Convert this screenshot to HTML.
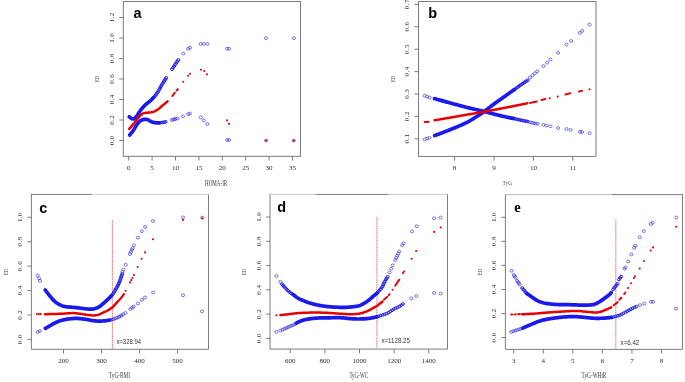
<!DOCTYPE html>
<html><head><meta charset="utf-8"><style>
html,body{margin:0;padding:0;background:#fff;}
body{width:685px;height:382px;overflow:hidden;}
svg{display:block;filter:blur(0.25px);}

</style></head><body>
<svg width="685" height="382" viewBox="0 0 685 382">
<rect width="685" height="382" fill="#fff"/>
<rect x="123.3" y="1.5" width="177.2" height="154.8" fill="none" stroke="#6e6e6e" stroke-width="0.9"/>
<line x1="128.7" y1="156.3" x2="128.7" y2="160.5" stroke="#6e6e6e" stroke-width="0.9"/>
<text x="128.7" y="168.2" font-family="Liberation Serif" font-size="7" font-weight="normal" fill="#2a2a2a" text-anchor="middle" dominant-baseline="central">0</text>
<line x1="152.1" y1="156.3" x2="152.1" y2="160.5" stroke="#6e6e6e" stroke-width="0.9"/>
<text x="152.1" y="168.2" font-family="Liberation Serif" font-size="7" font-weight="normal" fill="#2a2a2a" text-anchor="middle" dominant-baseline="central">5</text>
<line x1="175.5" y1="156.3" x2="175.5" y2="160.5" stroke="#6e6e6e" stroke-width="0.9"/>
<text x="175.5" y="168.2" font-family="Liberation Serif" font-size="7" font-weight="normal" fill="#2a2a2a" text-anchor="middle" dominant-baseline="central">10</text>
<line x1="198.9" y1="156.3" x2="198.9" y2="160.5" stroke="#6e6e6e" stroke-width="0.9"/>
<text x="198.9" y="168.2" font-family="Liberation Serif" font-size="7" font-weight="normal" fill="#2a2a2a" text-anchor="middle" dominant-baseline="central">15</text>
<line x1="222.3" y1="156.3" x2="222.3" y2="160.5" stroke="#6e6e6e" stroke-width="0.9"/>
<text x="222.3" y="168.2" font-family="Liberation Serif" font-size="7" font-weight="normal" fill="#2a2a2a" text-anchor="middle" dominant-baseline="central">20</text>
<line x1="245.7" y1="156.3" x2="245.7" y2="160.5" stroke="#6e6e6e" stroke-width="0.9"/>
<text x="245.7" y="168.2" font-family="Liberation Serif" font-size="7" font-weight="normal" fill="#2a2a2a" text-anchor="middle" dominant-baseline="central">25</text>
<line x1="269.1" y1="156.3" x2="269.1" y2="160.5" stroke="#6e6e6e" stroke-width="0.9"/>
<text x="269.1" y="168.2" font-family="Liberation Serif" font-size="7" font-weight="normal" fill="#2a2a2a" text-anchor="middle" dominant-baseline="central">30</text>
<line x1="292.5" y1="156.3" x2="292.5" y2="160.5" stroke="#6e6e6e" stroke-width="0.9"/>
<text x="292.5" y="168.2" font-family="Liberation Serif" font-size="7" font-weight="normal" fill="#2a2a2a" text-anchor="middle" dominant-baseline="central">35</text>
<line x1="119.3" y1="140.5" x2="123.3" y2="140.5" stroke="#6e6e6e" stroke-width="0.9"/>
<text x="112" y="140.5" font-family="Liberation Serif" font-size="7" font-weight="normal" fill="#2a2a2a" text-anchor="middle" dominant-baseline="central" textLength="9.6" lengthAdjust="spacing" transform="rotate(-90 112 140.5)">0.0</text>
<line x1="119.3" y1="120" x2="123.3" y2="120" stroke="#6e6e6e" stroke-width="0.9"/>
<text x="112" y="120" font-family="Liberation Serif" font-size="7" font-weight="normal" fill="#2a2a2a" text-anchor="middle" dominant-baseline="central" textLength="9.6" lengthAdjust="spacing" transform="rotate(-90 112 120)">0.2</text>
<line x1="119.3" y1="99.5" x2="123.3" y2="99.5" stroke="#6e6e6e" stroke-width="0.9"/>
<text x="112" y="99.5" font-family="Liberation Serif" font-size="7" font-weight="normal" fill="#2a2a2a" text-anchor="middle" dominant-baseline="central" textLength="9.6" lengthAdjust="spacing" transform="rotate(-90 112 99.5)">0.4</text>
<line x1="119.3" y1="79" x2="123.3" y2="79" stroke="#6e6e6e" stroke-width="0.9"/>
<text x="112" y="79" font-family="Liberation Serif" font-size="7" font-weight="normal" fill="#2a2a2a" text-anchor="middle" dominant-baseline="central" textLength="9.6" lengthAdjust="spacing" transform="rotate(-90 112 79)">0.6</text>
<line x1="119.3" y1="58.5" x2="123.3" y2="58.5" stroke="#6e6e6e" stroke-width="0.9"/>
<text x="112" y="58.5" font-family="Liberation Serif" font-size="7" font-weight="normal" fill="#2a2a2a" text-anchor="middle" dominant-baseline="central" textLength="9.6" lengthAdjust="spacing" transform="rotate(-90 112 58.5)">0.8</text>
<line x1="119.3" y1="38" x2="123.3" y2="38" stroke="#6e6e6e" stroke-width="0.9"/>
<text x="112" y="38" font-family="Liberation Serif" font-size="7" font-weight="normal" fill="#2a2a2a" text-anchor="middle" dominant-baseline="central" textLength="9.6" lengthAdjust="spacing" transform="rotate(-90 112 38)">1.0</text>
<line x1="119.3" y1="17.5" x2="123.3" y2="17.5" stroke="#6e6e6e" stroke-width="0.9"/>
<text x="112" y="17.5" font-family="Liberation Serif" font-size="7" font-weight="normal" fill="#2a2a2a" text-anchor="middle" dominant-baseline="central" textLength="9.6" lengthAdjust="spacing" transform="rotate(-90 112 17.5)">1.2</text>
<text x="97" y="78.9" font-family="Liberation Serif" font-size="6.2" font-weight="normal" fill="#444" text-anchor="middle" dominant-baseline="central" textLength="6.3" lengthAdjust="spacingAndGlyphs" transform="rotate(-90 97 78.9)">ED</text>
<text x="216.1" y="183.2" font-family="Liberation Serif" font-size="7.3" font-weight="normal" fill="#3a3a3a" text-anchor="middle" dominant-baseline="central" textLength="22.2" lengthAdjust="spacingAndGlyphs">HOMA-IR</text>
<text x="133.6" y="13.2" font-family="Liberation Sans" font-size="14.5" font-weight="bold" fill="#000" text-anchor="start" dominant-baseline="central">a</text>
<path d="M129.2 116.8 L129.89 117.33 L130.87 118.07 L131.8 118.6 L132.85 118.84 L133.9 118.6 L134.51 118.27 L135.17 117.81 L135.84 117.21 L136.5 116.5 L136.93 115.93 L137.34 115.29 L137.76 114.59 L138.19 113.86 L138.63 113.12 L139.1 112.4 L139.59 111.69 L140.11 110.96 L140.64 110.23 L141.18 109.5 L141.74 108.79 L142.3 108.1 L142.87 107.43 L143.45 106.78 L144.04 106.14 L144.64 105.51 L145.26 104.9 L145.9 104.3 L146.58 103.72 L147.29 103.16 L148.02 102.62 L148.74 102.08 L149.45 101.54 L150.1 101 L150.87 100.29 L151.64 99.52 L152.36 98.78 L152.97 98.15 L153.4 97.7" fill="none" stroke="#1a1aee" stroke-width="3.7" stroke-linecap="round" stroke-linejoin="round"/>
<ellipse cx="153.4" cy="97.7" rx="1.5" ry="1.3" fill="none" stroke="#1a1ae6" stroke-width="1.0"/>
<ellipse cx="154.65" cy="96.43" rx="1.5" ry="1.3" fill="none" stroke="#1a1ae6" stroke-width="1.0"/>
<ellipse cx="155.69" cy="95.14" rx="1.5" ry="1.3" fill="none" stroke="#1a1ae6" stroke-width="1.0"/>
<ellipse cx="156.64" cy="93.78" rx="1.5" ry="1.3" fill="none" stroke="#1a1ae6" stroke-width="1.0"/>
<ellipse cx="157.56" cy="92.38" rx="1.5" ry="1.3" fill="none" stroke="#1a1ae6" stroke-width="1.0"/>
<ellipse cx="158.49" cy="90.89" rx="1.5" ry="1.3" fill="none" stroke="#1a1ae6" stroke-width="1.0"/>
<ellipse cx="159.38" cy="89.33" rx="1.5" ry="1.3" fill="none" stroke="#1a1ae6" stroke-width="1.0"/>
<ellipse cx="160.18" cy="87.86" rx="1.5" ry="1.3" fill="none" stroke="#1a1ae6" stroke-width="1.0"/>
<ellipse cx="160.97" cy="86.4" rx="1.5" ry="1.3" fill="none" stroke="#1a1ae6" stroke-width="1.0"/>
<ellipse cx="161.8" cy="84.9" rx="1.5" ry="1.3" fill="none" stroke="#1a1ae6" stroke-width="1.0"/>
<ellipse cx="162.71" cy="83.38" rx="1.5" ry="1.3" fill="none" stroke="#1a1ae6" stroke-width="1.0"/>
<ellipse cx="163.66" cy="81.88" rx="1.5" ry="1.3" fill="none" stroke="#1a1ae6" stroke-width="1.0"/>
<ellipse cx="164.51" cy="80.52" rx="1.5" ry="1.3" fill="none" stroke="#1a1ae6" stroke-width="1.0"/>
<ellipse cx="165.36" cy="79.14" rx="1.5" ry="1.3" fill="none" stroke="#1a1ae6" stroke-width="1.0"/>
<ellipse cx="166.22" cy="77.77" rx="1.5" ry="1.3" fill="none" stroke="#1a1ae6" stroke-width="1.0"/>
<ellipse cx="172" cy="69.2" rx="1.5" ry="1.3" fill="none" stroke="#1a1ae6" stroke-width="1.0"/>
<ellipse cx="173.11" cy="67.55" rx="1.5" ry="1.3" fill="none" stroke="#1a1ae6" stroke-width="1.0"/>
<ellipse cx="174.13" cy="66.03" rx="1.5" ry="1.3" fill="none" stroke="#1a1ae6" stroke-width="1.0"/>
<ellipse cx="175.15" cy="64.51" rx="1.5" ry="1.3" fill="none" stroke="#1a1ae6" stroke-width="1.0"/>
<ellipse cx="176.25" cy="62.9" rx="1.5" ry="1.3" fill="none" stroke="#1a1ae6" stroke-width="1.0"/>
<ellipse cx="177.3" cy="61.37" rx="1.5" ry="1.3" fill="none" stroke="#1a1ae6" stroke-width="1.0"/>
<ellipse cx="178.34" cy="59.87" rx="1.5" ry="1.3" fill="none" stroke="#1a1ae6" stroke-width="1.0"/>
<ellipse cx="183.3" cy="53.5" rx="1.6" ry="1.4" fill="none" stroke="#3030d8" stroke-width="0.65"/>
<ellipse cx="188.3" cy="48.8" rx="1.6" ry="1.4" fill="none" stroke="#3030d8" stroke-width="0.65"/>
<ellipse cx="190" cy="47.7" rx="1.6" ry="1.4" fill="none" stroke="#3030d8" stroke-width="0.65"/>
<ellipse cx="200.7" cy="43.9" rx="1.6" ry="1.4" fill="none" stroke="#3030d8" stroke-width="0.65"/>
<ellipse cx="203.8" cy="43.9" rx="1.6" ry="1.4" fill="none" stroke="#3030d8" stroke-width="0.65"/>
<ellipse cx="207.4" cy="43.9" rx="1.6" ry="1.4" fill="none" stroke="#3030d8" stroke-width="0.65"/>
<ellipse cx="227.1" cy="48.7" rx="1.6" ry="1.4" fill="none" stroke="#3030d8" stroke-width="0.65"/>
<ellipse cx="229.1" cy="48.7" rx="1.6" ry="1.4" fill="none" stroke="#3030d8" stroke-width="0.65"/>
<ellipse cx="266" cy="38.2" rx="1.6" ry="1.4" fill="none" stroke="#3030d8" stroke-width="0.65"/>
<ellipse cx="293.9" cy="38.2" rx="1.6" ry="1.4" fill="none" stroke="#3030d8" stroke-width="0.65"/>
<path d="M129.7 135 L130.04 134.58 L130.5 134.01 L131.06 133.34 L131.66 132.59 L132.28 131.81 L132.87 131.03 L133.4 130.3 L133.87 129.58 L134.33 128.84 L134.77 128.08 L135.2 127.32 L135.62 126.58 L136.06 125.87 L136.5 125.2 L137.02 124.46 L137.54 123.73 L138.07 123.04 L138.6 122.39 L139.14 121.81 L139.7 121.3 L140.57 120.68 L141.47 120.21 L142.38 119.86 L143.3 119.6 L144.21 119.41 L145.11 119.31 L146.04 119.33 L147 119.5 L147.81 119.8 L148.64 120.23 L149.5 120.73 L150.35 121.21 L151.2 121.6 L152.05 121.9 L152.91 122.16 L153.76 122.38 L154.6 122.56 L155.4 122.7 L156.43 122.8 L157.46 122.82 L158.37 122.81 L159 122.8" fill="none" stroke="#1a1aee" stroke-width="3.7" stroke-linecap="round" stroke-linejoin="round"/>
<ellipse cx="159" cy="122.8" rx="1.5" ry="1.3" fill="none" stroke="#1a1ae6" stroke-width="1.0"/>
<ellipse cx="160.75" cy="122.66" rx="1.5" ry="1.3" fill="none" stroke="#1a1ae6" stroke-width="1.0"/>
<ellipse cx="162.36" cy="122.49" rx="1.5" ry="1.3" fill="none" stroke="#1a1ae6" stroke-width="1.0"/>
<ellipse cx="164.09" cy="122.19" rx="1.5" ry="1.3" fill="none" stroke="#1a1ae6" stroke-width="1.0"/>
<ellipse cx="165.69" cy="121.82" rx="1.5" ry="1.3" fill="none" stroke="#1a1ae6" stroke-width="1.0"/>
<ellipse cx="172" cy="120" rx="1.6" ry="1.4" fill="none" stroke="#3030d8" stroke-width="0.65"/>
<ellipse cx="173.3" cy="119.6" rx="1.6" ry="1.4" fill="none" stroke="#3030d8" stroke-width="0.65"/>
<ellipse cx="174.5" cy="119.2" rx="1.6" ry="1.4" fill="none" stroke="#3030d8" stroke-width="0.65"/>
<ellipse cx="175.8" cy="118.8" rx="1.6" ry="1.4" fill="none" stroke="#3030d8" stroke-width="0.65"/>
<ellipse cx="177.5" cy="118.5" rx="1.6" ry="1.4" fill="none" stroke="#3030d8" stroke-width="0.65"/>
<ellipse cx="183" cy="116.4" rx="1.6" ry="1.4" fill="none" stroke="#3030d8" stroke-width="0.65"/>
<ellipse cx="188.3" cy="114.2" rx="1.6" ry="1.4" fill="none" stroke="#3030d8" stroke-width="0.65"/>
<ellipse cx="190" cy="113.5" rx="1.6" ry="1.4" fill="none" stroke="#3030d8" stroke-width="0.65"/>
<ellipse cx="200.7" cy="117.4" rx="1.6" ry="1.4" fill="none" stroke="#3030d8" stroke-width="0.65"/>
<ellipse cx="203.8" cy="120.4" rx="1.6" ry="1.4" fill="none" stroke="#3030d8" stroke-width="0.65"/>
<ellipse cx="207.4" cy="124" rx="1.6" ry="1.4" fill="none" stroke="#3030d8" stroke-width="0.65"/>
<ellipse cx="227.2" cy="140" rx="1.6" ry="1.4" fill="none" stroke="#3030d8" stroke-width="0.65"/>
<ellipse cx="229.1" cy="140" rx="1.6" ry="1.4" fill="none" stroke="#3030d8" stroke-width="0.65"/>
<ellipse cx="266.1" cy="140.6" rx="1.6" ry="1.4" fill="none" stroke="#3030d8" stroke-width="0.65"/>
<ellipse cx="293.8" cy="140.6" rx="1.6" ry="1.4" fill="none" stroke="#3030d8" stroke-width="0.65"/>
<path d="M129.2 129 L129.52 128.62 L129.95 128.11 L130.47 127.5 L131.04 126.83 L131.64 126.12 L132.25 125.39 L132.85 124.67 L133.4 124 L133.93 123.35 L134.45 122.68 L134.97 122 L135.5 121.32 L136.03 120.64 L136.55 119.98 L137.08 119.33 L137.6 118.7 L138.2 117.99 L138.8 117.27 L139.41 116.55 L140.01 115.87 L140.61 115.24 L141.21 114.67 L141.8 114.2 L142.62 113.7 L143.44 113.36 L144.26 113.13 L145.08 112.96 L145.9 112.8 L146.73 112.68 L147.57 112.64 L148.42 112.62 L149.26 112.59 L150.1 112.5 L150.94 112.35 L151.78 112.18 L152.62 111.97 L153.46 111.72 L154.3 111.4 L155 111.09 L155.7 110.74 L156.4 110.36 L157.1 109.94 L157.8 109.48 L158.5 109 L159.19 108.47 L159.88 107.9 L160.56 107.3 L161.26 106.67 L161.97 106.04 L162.7 105.4 L163.4 104.81 L164.17 104.17 L164.97 103.5 L165.75 102.86 L166.46 102.26 L167.06 101.77 L167.5 101.4" fill="none" stroke="#e60000" stroke-width="2.5" stroke-linecap="round" stroke-linejoin="round"/>
<circle cx="172.4" cy="95.9" r="1.0" fill="#e60000"/>
<circle cx="173.02" cy="95.07" r="1.0" fill="#e60000"/>
<circle cx="173.6" cy="94.3" r="1.0" fill="#e60000"/>
<circle cx="174.18" cy="93.53" r="1.0" fill="#e60000"/>
<circle cx="174.73" cy="92.79" r="1.0" fill="#e60000"/>
<circle cx="176.6" cy="90.6" r="1.0" fill="#e60000"/>
<circle cx="177.22" cy="89.85" r="1.0" fill="#e60000"/>
<circle cx="177.81" cy="89.13" r="1.0" fill="#e60000"/>
<circle cx="183.2" cy="81.8" r="1.05" fill="#e60000"/>
<circle cx="188.1" cy="75.7" r="1.05" fill="#e60000"/>
<circle cx="190" cy="73.8" r="1.05" fill="#e60000"/>
<circle cx="201" cy="69.8" r="1.05" fill="#e60000"/>
<circle cx="204.2" cy="71" r="1.05" fill="#e60000"/>
<circle cx="207" cy="74.2" r="1.05" fill="#e60000"/>
<circle cx="227.1" cy="120.4" r="1.05" fill="#e60000"/>
<circle cx="229.1" cy="123.9" r="1.05" fill="#e60000"/>
<circle cx="266.1" cy="140.6" r="1.05" fill="#e60000"/>
<circle cx="293.8" cy="140.6" r="1.05" fill="#e60000"/>
<rect x="418.5" y="1.5" width="177.5" height="154.9" fill="none" stroke="#6e6e6e" stroke-width="0.9"/>
<line x1="454.6" y1="156.4" x2="454.6" y2="160.6" stroke="#6e6e6e" stroke-width="0.9"/>
<text x="454.6" y="168.3" font-family="Liberation Serif" font-size="7" font-weight="normal" fill="#2a2a2a" text-anchor="middle" dominant-baseline="central">8</text>
<line x1="494" y1="156.4" x2="494" y2="160.6" stroke="#6e6e6e" stroke-width="0.9"/>
<text x="494" y="168.3" font-family="Liberation Serif" font-size="7" font-weight="normal" fill="#2a2a2a" text-anchor="middle" dominant-baseline="central">9</text>
<line x1="533.4" y1="156.4" x2="533.4" y2="160.6" stroke="#6e6e6e" stroke-width="0.9"/>
<text x="533.4" y="168.3" font-family="Liberation Serif" font-size="7" font-weight="normal" fill="#2a2a2a" text-anchor="middle" dominant-baseline="central">10</text>
<line x1="572.8" y1="156.4" x2="572.8" y2="160.6" stroke="#6e6e6e" stroke-width="0.9"/>
<text x="572.8" y="168.3" font-family="Liberation Serif" font-size="7" font-weight="normal" fill="#2a2a2a" text-anchor="middle" dominant-baseline="central">11</text>
<line x1="414.5" y1="138.8" x2="418.5" y2="138.8" stroke="#6e6e6e" stroke-width="0.9"/>
<text x="407.2" y="138.8" font-family="Liberation Serif" font-size="7" font-weight="normal" fill="#2a2a2a" text-anchor="middle" dominant-baseline="central" textLength="9.6" lengthAdjust="spacing" transform="rotate(-90 407.2 138.8)">0.1</text>
<line x1="414.5" y1="116.4" x2="418.5" y2="116.4" stroke="#6e6e6e" stroke-width="0.9"/>
<text x="407.2" y="116.4" font-family="Liberation Serif" font-size="7" font-weight="normal" fill="#2a2a2a" text-anchor="middle" dominant-baseline="central" textLength="9.6" lengthAdjust="spacing" transform="rotate(-90 407.2 116.4)">0.2</text>
<line x1="414.5" y1="94" x2="418.5" y2="94" stroke="#6e6e6e" stroke-width="0.9"/>
<text x="407.2" y="94" font-family="Liberation Serif" font-size="7" font-weight="normal" fill="#2a2a2a" text-anchor="middle" dominant-baseline="central" textLength="9.6" lengthAdjust="spacing" transform="rotate(-90 407.2 94)">0.3</text>
<line x1="414.5" y1="71.6" x2="418.5" y2="71.6" stroke="#6e6e6e" stroke-width="0.9"/>
<text x="407.2" y="71.6" font-family="Liberation Serif" font-size="7" font-weight="normal" fill="#2a2a2a" text-anchor="middle" dominant-baseline="central" textLength="9.6" lengthAdjust="spacing" transform="rotate(-90 407.2 71.6)">0.4</text>
<line x1="414.5" y1="49.2" x2="418.5" y2="49.2" stroke="#6e6e6e" stroke-width="0.9"/>
<text x="407.2" y="49.2" font-family="Liberation Serif" font-size="7" font-weight="normal" fill="#2a2a2a" text-anchor="middle" dominant-baseline="central" textLength="9.6" lengthAdjust="spacing" transform="rotate(-90 407.2 49.2)">0.5</text>
<line x1="414.5" y1="26.8" x2="418.5" y2="26.8" stroke="#6e6e6e" stroke-width="0.9"/>
<text x="407.2" y="26.8" font-family="Liberation Serif" font-size="7" font-weight="normal" fill="#2a2a2a" text-anchor="middle" dominant-baseline="central" textLength="9.6" lengthAdjust="spacing" transform="rotate(-90 407.2 26.8)">0.6</text>
<line x1="414.5" y1="4.4" x2="418.5" y2="4.4" stroke="#6e6e6e" stroke-width="0.9"/>
<text x="407.2" y="4.4" font-family="Liberation Serif" font-size="7" font-weight="normal" fill="#2a2a2a" text-anchor="middle" dominant-baseline="central" textLength="9.6" lengthAdjust="spacing" transform="rotate(-90 407.2 4.4)">0.7</text>
<text x="392.2" y="78.95" font-family="Liberation Serif" font-size="6.2" font-weight="normal" fill="#444" text-anchor="middle" dominant-baseline="central" textLength="6.3" lengthAdjust="spacingAndGlyphs" transform="rotate(-90 392.2 78.95)">ED</text>
<text x="507.3" y="182.8" font-family="Liberation Serif" font-size="6.6" font-weight="normal" fill="#555" text-anchor="middle" dominant-baseline="central" textLength="9.5" lengthAdjust="spacingAndGlyphs">TyG</text>
<text x="428.3" y="12.6" font-family="Liberation Sans" font-size="14.5" font-weight="bold" fill="#000" text-anchor="start" dominant-baseline="central">b</text>
<path d="M434.7 135.6 L435.13 135.44 L435.64 135.24 L436.24 135.02 L436.89 134.77 L437.61 134.5 L438.38 134.21 L439.19 133.9 L440.04 133.58 L440.91 133.25 L441.8 132.91 L442.69 132.57 L443.59 132.23 L444.47 131.89 L445.34 131.55 L446.19 131.22 L447 130.9 L447.75 130.6 L448.53 130.29 L449.32 129.98 L450.12 129.66 L450.92 129.34 L451.74 129.01 L452.55 128.69 L453.36 128.36 L454.17 128.03 L454.97 127.71 L455.75 127.38 L456.52 127.07 L457.27 126.76 L458 126.45 L458.7 126.16 L459.36 125.87 L460 125.6 L460.92 125.2 L461.76 124.83 L462.54 124.48 L463.28 124.15 L463.97 123.83 L464.65 123.51 L465.3 123.19 L465.95 122.87 L466.61 122.53 L467.29 122.18 L468 121.8 L468.73 121.4 L469.46 120.99 L470.19 120.57 L470.92 120.15 L471.65 119.71 L472.38 119.27 L473.11 118.82 L473.84 118.36 L474.56 117.91 L475.28 117.46 L476 117 L476.7 116.55 L477.37 116.12 L478.02 115.7 L478.67 115.28 L479.32 114.85 L479.97 114.41 L480.65 113.95 L481.35 113.47 L482.08 112.95 L482.87 112.4 L483.7 111.8 L484.27 111.38 L484.87 110.94 L485.5 110.48 L486.14 110 L486.8 109.5 L487.47 108.99 L488.16 108.47 L488.86 107.94 L489.56 107.4 L490.26 106.86 L490.96 106.33 L491.66 105.8 L492.35 105.27 L493.04 104.76 L493.71 104.26 L494.36 103.77 L495 103.3 L495.71 102.78 L496.41 102.28 L497.1 101.78 L497.79 101.29 L498.47 100.8 L499.14 100.33 L499.81 99.85 L500.48 99.39 L501.13 98.92 L501.79 98.46 L502.44 98.01 L503.08 97.55 L503.73 97.1 L504.37 96.65 L505 96.2 L505.75 95.67 L506.53 95.11 L507.33 94.54 L508.14 93.97 L508.94 93.4 L509.74 92.83 L510.51 92.29 L511.24 91.76 L511.93 91.27 L512.56 90.83 L513.12 90.43 L513.61 90.08 L514 89.8" fill="none" stroke="#1a1aee" stroke-width="3.7" stroke-linecap="round" stroke-linejoin="round"/>
<ellipse cx="424.7" cy="139.4" rx="1.6" ry="1.4" fill="none" stroke="#3030d8" stroke-width="0.65"/>
<ellipse cx="427.1" cy="138.6" rx="1.6" ry="1.4" fill="none" stroke="#3030d8" stroke-width="0.65"/>
<ellipse cx="429.5" cy="137.8" rx="1.6" ry="1.4" fill="none" stroke="#3030d8" stroke-width="0.65"/>
<ellipse cx="514" cy="89.8" rx="1.5" ry="1.3" fill="none" stroke="#1a1ae6" stroke-width="1.0"/>
<ellipse cx="515.33" cy="88.84" rx="1.5" ry="1.3" fill="none" stroke="#1a1ae6" stroke-width="1.0"/>
<ellipse cx="516.68" cy="87.86" rx="1.5" ry="1.3" fill="none" stroke="#1a1ae6" stroke-width="1.0"/>
<ellipse cx="518.02" cy="86.9" rx="1.5" ry="1.3" fill="none" stroke="#1a1ae6" stroke-width="1.0"/>
<ellipse cx="519.41" cy="85.91" rx="1.5" ry="1.3" fill="none" stroke="#1a1ae6" stroke-width="1.0"/>
<ellipse cx="520.79" cy="84.95" rx="1.5" ry="1.3" fill="none" stroke="#1a1ae6" stroke-width="1.0"/>
<ellipse cx="522.24" cy="83.95" rx="1.5" ry="1.3" fill="none" stroke="#1a1ae6" stroke-width="1.0"/>
<ellipse cx="523.6" cy="83.01" rx="1.5" ry="1.3" fill="none" stroke="#1a1ae6" stroke-width="1.0"/>
<ellipse cx="524.95" cy="82.09" rx="1.5" ry="1.3" fill="none" stroke="#1a1ae6" stroke-width="1.0"/>
<ellipse cx="526.36" cy="81.13" rx="1.5" ry="1.3" fill="none" stroke="#1a1ae6" stroke-width="1.0"/>
<ellipse cx="527.72" cy="80.19" rx="1.5" ry="1.3" fill="none" stroke="#1a1ae6" stroke-width="1.0"/>
<ellipse cx="530" cy="77.5" rx="1.6" ry="1.4" fill="none" stroke="#3030d8" stroke-width="0.65"/>
<ellipse cx="532.43" cy="75.43" rx="1.6" ry="1.4" fill="none" stroke="#3030d8" stroke-width="0.65"/>
<ellipse cx="534.87" cy="73.37" rx="1.6" ry="1.4" fill="none" stroke="#3030d8" stroke-width="0.65"/>
<ellipse cx="537.3" cy="71.3" rx="1.6" ry="1.4" fill="none" stroke="#3030d8" stroke-width="0.65"/>
<ellipse cx="543.5" cy="66.1" rx="1.6" ry="1.4" fill="none" stroke="#3030d8" stroke-width="0.65"/>
<ellipse cx="547.2" cy="62.7" rx="1.6" ry="1.4" fill="none" stroke="#3030d8" stroke-width="0.65"/>
<ellipse cx="550.4" cy="59.6" rx="1.6" ry="1.4" fill="none" stroke="#3030d8" stroke-width="0.65"/>
<ellipse cx="558.1" cy="52.9" rx="1.6" ry="1.4" fill="none" stroke="#3030d8" stroke-width="0.65"/>
<ellipse cx="566.5" cy="44.5" rx="1.6" ry="1.4" fill="none" stroke="#3030d8" stroke-width="0.65"/>
<ellipse cx="571.1" cy="41" rx="1.6" ry="1.4" fill="none" stroke="#3030d8" stroke-width="0.65"/>
<ellipse cx="579.7" cy="33" rx="1.6" ry="1.4" fill="none" stroke="#3030d8" stroke-width="0.65"/>
<ellipse cx="582.2" cy="30.9" rx="1.6" ry="1.4" fill="none" stroke="#3030d8" stroke-width="0.65"/>
<ellipse cx="589.5" cy="24.6" rx="1.6" ry="1.4" fill="none" stroke="#3030d8" stroke-width="0.65"/>
<path d="M434.5 98.6 L434.94 98.72 L435.46 98.87 L436.06 99.04 L436.73 99.23 L437.47 99.44 L438.25 99.66 L439.08 99.89 L439.94 100.13 L440.82 100.38 L441.73 100.63 L442.64 100.89 L443.55 101.14 L444.45 101.39 L445.33 101.64 L446.18 101.87 L447 102.1 L447.81 102.32 L448.64 102.55 L449.48 102.78 L450.33 103.01 L451.19 103.24 L452.06 103.47 L452.92 103.71 L453.78 103.94 L454.63 104.17 L455.47 104.39 L456.29 104.61 L457.09 104.82 L457.86 105.03 L458.61 105.23 L459.32 105.42 L460 105.6 L460.97 105.86 L461.8 106.08 L462.52 106.28 L463.19 106.46 L463.83 106.64 L464.49 106.81 L465.19 107 L465.99 107.2 L466.91 107.43 L468 107.7 L468.62 107.85 L469.27 108.01 L469.97 108.17 L470.7 108.35 L471.46 108.52 L472.25 108.71 L473.06 108.9 L473.89 109.09 L474.73 109.28 L475.58 109.48 L476.44 109.68 L477.3 109.88 L478.15 110.08 L479 110.28 L479.83 110.47 L480.65 110.67 L481.46 110.86 L482.23 111.04 L482.98 111.22 L483.7 111.4 L484.62 111.63 L485.51 111.85 L486.38 112.08 L487.23 112.3 L488.06 112.52 L488.88 112.74 L489.68 112.95 L490.48 113.16 L491.26 113.37 L492.05 113.58 L492.83 113.79 L493.61 113.99 L494.4 114.2 L495.2 114.4 L496 114.6 L496.82 114.8 L497.67 115.01 L498.53 115.21 L499.4 115.42 L500.28 115.63 L501.16 115.84 L502.03 116.04 L502.88 116.24 L503.72 116.43 L504.53 116.61 L505.31 116.79 L506.05 116.96 L506.75 117.12 L507.4 117.27 L508 117.4 L509.3 117.68 L510.37 117.9 L511.25 118.08 L511.96 118.21 L512.54 118.31 L513 118.4" fill="none" stroke="#1a1aee" stroke-width="3.7" stroke-linecap="round" stroke-linejoin="round"/>
<ellipse cx="424.7" cy="95.7" rx="1.6" ry="1.4" fill="none" stroke="#3030d8" stroke-width="0.65"/>
<ellipse cx="427.1" cy="96.6" rx="1.6" ry="1.4" fill="none" stroke="#3030d8" stroke-width="0.65"/>
<ellipse cx="429.5" cy="97.5" rx="1.6" ry="1.4" fill="none" stroke="#3030d8" stroke-width="0.65"/>
<ellipse cx="513" cy="118.4" rx="1.5" ry="1.3" fill="none" stroke="#1a1ae6" stroke-width="1.0"/>
<ellipse cx="514.65" cy="118.78" rx="1.5" ry="1.3" fill="none" stroke="#1a1ae6" stroke-width="1.0"/>
<ellipse cx="516.34" cy="119.18" rx="1.5" ry="1.3" fill="none" stroke="#1a1ae6" stroke-width="1.0"/>
<ellipse cx="517.96" cy="119.55" rx="1.5" ry="1.3" fill="none" stroke="#1a1ae6" stroke-width="1.0"/>
<ellipse cx="519.56" cy="119.91" rx="1.5" ry="1.3" fill="none" stroke="#1a1ae6" stroke-width="1.0"/>
<ellipse cx="521.22" cy="120.26" rx="1.5" ry="1.3" fill="none" stroke="#1a1ae6" stroke-width="1.0"/>
<ellipse cx="522.81" cy="120.58" rx="1.5" ry="1.3" fill="none" stroke="#1a1ae6" stroke-width="1.0"/>
<ellipse cx="524.44" cy="120.9" rx="1.5" ry="1.3" fill="none" stroke="#1a1ae6" stroke-width="1.0"/>
<ellipse cx="526.16" cy="121.24" rx="1.5" ry="1.3" fill="none" stroke="#1a1ae6" stroke-width="1.0"/>
<ellipse cx="527.78" cy="121.56" rx="1.5" ry="1.3" fill="none" stroke="#1a1ae6" stroke-width="1.0"/>
<ellipse cx="529.9" cy="122.3" rx="1.6" ry="1.4" fill="none" stroke="#3030d8" stroke-width="0.65"/>
<ellipse cx="532" cy="122.8" rx="1.6" ry="1.4" fill="none" stroke="#3030d8" stroke-width="0.65"/>
<ellipse cx="534" cy="123.2" rx="1.6" ry="1.4" fill="none" stroke="#3030d8" stroke-width="0.65"/>
<ellipse cx="535.8" cy="123.6" rx="1.6" ry="1.4" fill="none" stroke="#3030d8" stroke-width="0.65"/>
<ellipse cx="537.7" cy="123.9" rx="1.6" ry="1.4" fill="none" stroke="#3030d8" stroke-width="0.65"/>
<ellipse cx="543.5" cy="124.9" rx="1.6" ry="1.4" fill="none" stroke="#3030d8" stroke-width="0.65"/>
<ellipse cx="546.5" cy="125.5" rx="1.6" ry="1.4" fill="none" stroke="#3030d8" stroke-width="0.65"/>
<ellipse cx="550.4" cy="126.3" rx="1.6" ry="1.4" fill="none" stroke="#3030d8" stroke-width="0.65"/>
<ellipse cx="558.1" cy="128" rx="1.6" ry="1.4" fill="none" stroke="#3030d8" stroke-width="0.65"/>
<ellipse cx="566.5" cy="129" rx="1.6" ry="1.4" fill="none" stroke="#3030d8" stroke-width="0.65"/>
<ellipse cx="570.6" cy="129.8" rx="1.6" ry="1.4" fill="none" stroke="#3030d8" stroke-width="0.65"/>
<ellipse cx="580" cy="131.8" rx="1.6" ry="1.4" fill="none" stroke="#3030d8" stroke-width="0.65"/>
<ellipse cx="582" cy="132" rx="1.6" ry="1.4" fill="none" stroke="#3030d8" stroke-width="0.65"/>
<ellipse cx="589.5" cy="133.2" rx="1.6" ry="1.4" fill="none" stroke="#3030d8" stroke-width="0.65"/>
<path d="M434.7 120.3 L435.12 120.23 L435.59 120.15 L436.09 120.06 L436.65 119.96 L437.24 119.86 L437.86 119.75 L438.53 119.63 L439.22 119.51 L439.95 119.38 L440.71 119.25 L441.49 119.12 L442.3 118.98 L443.13 118.83 L443.99 118.68 L444.86 118.53 L445.75 118.37 L446.65 118.22 L447.57 118.06 L448.49 117.9 L449.43 117.73 L450.37 117.57 L451.31 117.4 L452.26 117.24 L453.21 117.07 L454.16 116.91 L455.1 116.74 L456.04 116.58 L456.97 116.42 L457.89 116.26 L458.8 116.1 L459.69 115.94 L460.57 115.79 L461.43 115.64 L462.27 115.5 L463.08 115.35 L463.88 115.22 L464.64 115.08 L465.38 114.96 L466.08 114.83 L466.76 114.72 L467.4 114.6 L468 114.5 L469.23 114.29 L470.35 114.09 L471.37 113.92 L472.31 113.76 L473.17 113.62 L473.97 113.48 L474.71 113.36 L475.41 113.24 L476.08 113.13 L476.74 113.02 L477.39 112.91 L478.04 112.8 L478.71 112.69 L479.4 112.57 L480.14 112.44 L480.92 112.3 L481.77 112.15 L482.69 111.98 L483.7 111.8 L484.38 111.68 L485.08 111.55 L485.8 111.41 L486.55 111.28 L487.31 111.14 L488.09 110.99 L488.89 110.84 L489.7 110.69 L490.52 110.54 L491.35 110.38 L492.19 110.22 L493.05 110.06 L493.9 109.9 L494.77 109.74 L495.63 109.57 L496.5 109.41 L497.37 109.25 L498.23 109.08 L499.1 108.92 L499.96 108.75 L500.81 108.59 L501.66 108.43 L502.5 108.26 L503.33 108.11 L504.15 107.95 L504.95 107.79 L505.74 107.64 L506.51 107.49 L507.26 107.34 L508 107.2 L508.91 107.02 L509.84 106.84 L510.78 106.65 L511.72 106.46 L512.66 106.27 L513.61 106.08 L514.55 105.89 L515.49 105.7 L516.42 105.51 L517.33 105.33 L518.24 105.14 L519.12 104.96 L519.98 104.79 L520.82 104.61 L521.63 104.45 L522.41 104.29 L523.16 104.13 L523.87 103.98 L524.54 103.85 L525.17 103.72 L525.75 103.6 L526.29 103.49 L526.77 103.39 L527.2 103.3" fill="none" stroke="#e60000" stroke-width="2.5" stroke-linecap="round" stroke-linejoin="round"/>
<circle cx="424.6" cy="122.1" r="1.0" fill="#e60000"/>
<circle cx="425.62" cy="122.03" r="1.0" fill="#e60000"/>
<circle cx="426.58" cy="121.96" r="1.0" fill="#e60000"/>
<circle cx="427.56" cy="121.89" r="1.0" fill="#e60000"/>
<circle cx="428.55" cy="121.82" r="1.0" fill="#e60000"/>
<circle cx="529.9" cy="102.9" r="1.0" fill="#e60000"/>
<circle cx="530.93" cy="102.69" r="1.0" fill="#e60000"/>
<circle cx="531.99" cy="102.47" r="1.0" fill="#e60000"/>
<circle cx="532.94" cy="102.28" r="1.0" fill="#e60000"/>
<circle cx="533.92" cy="102.07" r="1.0" fill="#e60000"/>
<circle cx="534.88" cy="101.88" r="1.0" fill="#e60000"/>
<circle cx="535.77" cy="101.69" r="1.0" fill="#e60000"/>
<circle cx="536.69" cy="101.51" r="1.0" fill="#e60000"/>
<circle cx="541.4" cy="99.9" r="1.0" fill="#e60000"/>
<circle cx="542.42" cy="99.68" r="1.0" fill="#e60000"/>
<circle cx="543.38" cy="99.48" r="1.0" fill="#e60000"/>
<circle cx="544.36" cy="99.27" r="1.0" fill="#e60000"/>
<circle cx="545.35" cy="99.05" r="1.0" fill="#e60000"/>
<circle cx="565.4" cy="94.5" r="1.0" fill="#e60000"/>
<circle cx="566.31" cy="94.29" r="1.0" fill="#e60000"/>
<circle cx="567.4" cy="94.04" r="1.0" fill="#e60000"/>
<circle cx="568.37" cy="93.82" r="1.0" fill="#e60000"/>
<circle cx="569.33" cy="93.6" r="1.0" fill="#e60000"/>
<circle cx="570.38" cy="93.36" r="1.0" fill="#e60000"/>
<circle cx="579" cy="91.5" r="1.0" fill="#e60000"/>
<circle cx="580.11" cy="91.26" r="1.0" fill="#e60000"/>
<circle cx="581.09" cy="91.04" r="1.0" fill="#e60000"/>
<circle cx="582.08" cy="90.83" r="1.0" fill="#e60000"/>
<circle cx="549.7" cy="98.2" r="1.05" fill="#e60000"/>
<circle cx="557.7" cy="96.6" r="1.05" fill="#e60000"/>
<circle cx="589.5" cy="89.3" r="1.05" fill="#e60000"/>
<path d="M31.4 193.95 L31.4 349.3 L208.5 349.3 L208.5 193.95" fill="none" stroke="#6e6e6e" stroke-width="0.9"/>
<line x1="31" y1="194.4" x2="92.2" y2="194.4" stroke="#6e6e6e" stroke-width="0.9"/>
<line x1="92.2" y1="194.4" x2="208.9" y2="194.4" stroke="#c6c6c6" stroke-width="0.9"/>
<line x1="63.5" y1="349.3" x2="63.5" y2="353.5" stroke="#6e6e6e" stroke-width="0.9"/>
<text x="63.5" y="361.2" font-family="Liberation Serif" font-size="7" font-weight="normal" fill="#2a2a2a" text-anchor="middle" dominant-baseline="central">200</text>
<line x1="101.53" y1="349.3" x2="101.53" y2="353.5" stroke="#6e6e6e" stroke-width="0.9"/>
<text x="101.53" y="361.2" font-family="Liberation Serif" font-size="7" font-weight="normal" fill="#2a2a2a" text-anchor="middle" dominant-baseline="central">300</text>
<line x1="139.56" y1="349.3" x2="139.56" y2="353.5" stroke="#6e6e6e" stroke-width="0.9"/>
<text x="139.56" y="361.2" font-family="Liberation Serif" font-size="7" font-weight="normal" fill="#2a2a2a" text-anchor="middle" dominant-baseline="central">400</text>
<line x1="177.59" y1="349.3" x2="177.59" y2="353.5" stroke="#6e6e6e" stroke-width="0.9"/>
<text x="177.59" y="361.2" font-family="Liberation Serif" font-size="7" font-weight="normal" fill="#2a2a2a" text-anchor="middle" dominant-baseline="central">500</text>
<line x1="27.4" y1="339.4" x2="31.4" y2="339.4" stroke="#6e6e6e" stroke-width="0.9"/>
<text x="20.1" y="339.4" font-family="Liberation Serif" font-size="7" font-weight="normal" fill="#2a2a2a" text-anchor="middle" dominant-baseline="central" textLength="9.6" lengthAdjust="spacing" transform="rotate(-90 20.1 339.4)">0.0</text>
<line x1="27.4" y1="314.98" x2="31.4" y2="314.98" stroke="#6e6e6e" stroke-width="0.9"/>
<text x="20.1" y="314.98" font-family="Liberation Serif" font-size="7" font-weight="normal" fill="#2a2a2a" text-anchor="middle" dominant-baseline="central" textLength="9.6" lengthAdjust="spacing" transform="rotate(-90 20.1 314.98)">0.2</text>
<line x1="27.4" y1="290.56" x2="31.4" y2="290.56" stroke="#6e6e6e" stroke-width="0.9"/>
<text x="20.1" y="290.56" font-family="Liberation Serif" font-size="7" font-weight="normal" fill="#2a2a2a" text-anchor="middle" dominant-baseline="central" textLength="9.6" lengthAdjust="spacing" transform="rotate(-90 20.1 290.56)">0.4</text>
<line x1="27.4" y1="266.14" x2="31.4" y2="266.14" stroke="#6e6e6e" stroke-width="0.9"/>
<text x="20.1" y="266.14" font-family="Liberation Serif" font-size="7" font-weight="normal" fill="#2a2a2a" text-anchor="middle" dominant-baseline="central" textLength="9.6" lengthAdjust="spacing" transform="rotate(-90 20.1 266.14)">0.6</text>
<line x1="27.4" y1="241.72" x2="31.4" y2="241.72" stroke="#6e6e6e" stroke-width="0.9"/>
<text x="20.1" y="241.72" font-family="Liberation Serif" font-size="7" font-weight="normal" fill="#2a2a2a" text-anchor="middle" dominant-baseline="central" textLength="9.6" lengthAdjust="spacing" transform="rotate(-90 20.1 241.72)">0.8</text>
<line x1="27.4" y1="217.3" x2="31.4" y2="217.3" stroke="#6e6e6e" stroke-width="0.9"/>
<text x="20.1" y="217.3" font-family="Liberation Serif" font-size="7" font-weight="normal" fill="#2a2a2a" text-anchor="middle" dominant-baseline="central" textLength="9.6" lengthAdjust="spacing" transform="rotate(-90 20.1 217.3)">1.0</text>
<text x="5.1" y="271.85" font-family="Liberation Serif" font-size="6.2" font-weight="normal" fill="#444" text-anchor="middle" dominant-baseline="central" textLength="6.3" lengthAdjust="spacingAndGlyphs" transform="rotate(-90 5.1 271.85)">ED</text>
<text x="119.5" y="375.7" font-family="Liberation Serif" font-size="7.3" font-weight="normal" fill="#3a3a3a" text-anchor="middle" dominant-baseline="central" textLength="21" lengthAdjust="spacingAndGlyphs">TyG-BMI</text>
<text x="39.3" y="207.6" font-family="Liberation Sans" font-size="14.5" font-weight="bold" fill="#000" text-anchor="start" dominant-baseline="central">c</text>
<line x1="112.4" y1="220" x2="112.4" y2="349.3" stroke="#e77f7f" stroke-width="1.1" stroke-dasharray="1.5 0.6"/>
<text x="116.4" y="341.3" font-family="Liberation Sans" font-size="6.3" font-weight="normal" fill="#333" text-anchor="start" dominant-baseline="central" textLength="24.6" lengthAdjust="spacingAndGlyphs">x=328.94</text>
<path d="M45.2 290 L45.5 290.39 L45.88 290.9 L46.34 291.51 L46.85 292.19 L47.41 292.91 L47.98 293.66 L48.57 294.41 L49.14 295.13 L49.7 295.8 L50.25 296.45 L50.81 297.12 L51.38 297.79 L51.96 298.47 L52.54 299.13 L53.13 299.77 L53.72 300.39 L54.31 300.97 L54.9 301.5 L55.65 302.12 L56.41 302.69 L57.17 303.21 L57.93 303.68 L58.69 304.12 L59.45 304.52 L60.2 304.9 L61.03 305.29 L61.81 305.63 L62.59 305.91 L63.42 306.16 L64.34 306.39 L65.4 306.6 L66.12 306.71 L66.88 306.81 L67.69 306.89 L68.53 306.97 L69.4 307.03 L70.3 307.09 L71.21 307.16 L72.14 307.23 L73.07 307.31 L74 307.4 L74.8 307.49 L75.64 307.58 L76.52 307.69 L77.41 307.8 L78.32 307.91 L79.22 308.02 L80.12 308.13 L80.99 308.24 L81.82 308.34 L82.61 308.44 L83.34 308.52 L84 308.6 L85.12 308.73 L86.04 308.85 L86.81 308.94 L87.52 309.02 L88.22 309.07 L89 309.1 L89.83 309.12 L90.67 309.12 L91.5 309.11 L92.33 309.06 L93.17 308.96 L94 308.8 L94.83 308.59 L95.67 308.33 L96.5 308.03 L97.33 307.68 L98.17 307.27 L99 306.8 L99.63 306.39 L100.27 305.93 L100.92 305.43 L101.56 304.9 L102.2 304.36 L102.82 303.82 L103.42 303.29 L104 302.8 L104.74 302.17 L105.44 301.54 L106.12 300.93 L106.78 300.33 L107.4 299.75 L108 299.2 L108.71 298.53 L109.42 297.85 L110.06 297.22 L110.61 296.68 L111 296.3" fill="none" stroke="#1a1aee" stroke-width="3.7" stroke-linecap="round" stroke-linejoin="round"/>
<ellipse cx="37.5" cy="275.3" rx="1.6" ry="1.4" fill="none" stroke="#3030d8" stroke-width="0.65"/>
<ellipse cx="38.9" cy="278.2" rx="1.6" ry="1.4" fill="none" stroke="#3030d8" stroke-width="0.65"/>
<ellipse cx="40" cy="280.8" rx="1.6" ry="1.4" fill="none" stroke="#3030d8" stroke-width="0.65"/>
<ellipse cx="111" cy="296.3" rx="1.5" ry="1.3" fill="none" stroke="#1a1ae6" stroke-width="1.0"/>
<ellipse cx="112.16" cy="294.9" rx="1.5" ry="1.3" fill="none" stroke="#1a1ae6" stroke-width="1.0"/>
<ellipse cx="113.22" cy="293.48" rx="1.5" ry="1.3" fill="none" stroke="#1a1ae6" stroke-width="1.0"/>
<ellipse cx="114.11" cy="292.08" rx="1.5" ry="1.3" fill="none" stroke="#1a1ae6" stroke-width="1.0"/>
<ellipse cx="115" cy="290.6" rx="1.5" ry="1.3" fill="none" stroke="#1a1ae6" stroke-width="1.0"/>
<ellipse cx="115.91" cy="289.05" rx="1.5" ry="1.3" fill="none" stroke="#1a1ae6" stroke-width="1.0"/>
<ellipse cx="116.71" cy="287.63" rx="1.5" ry="1.3" fill="none" stroke="#1a1ae6" stroke-width="1.0"/>
<ellipse cx="117.47" cy="286.21" rx="1.5" ry="1.3" fill="none" stroke="#1a1ae6" stroke-width="1.0"/>
<ellipse cx="118.2" cy="284.78" rx="1.5" ry="1.3" fill="none" stroke="#1a1ae6" stroke-width="1.0"/>
<ellipse cx="118.88" cy="283.31" rx="1.5" ry="1.3" fill="none" stroke="#1a1ae6" stroke-width="1.0"/>
<ellipse cx="119.51" cy="281.81" rx="1.5" ry="1.3" fill="none" stroke="#1a1ae6" stroke-width="1.0"/>
<ellipse cx="120.09" cy="280.28" rx="1.5" ry="1.3" fill="none" stroke="#1a1ae6" stroke-width="1.0"/>
<ellipse cx="120.66" cy="278.69" rx="1.5" ry="1.3" fill="none" stroke="#1a1ae6" stroke-width="1.0"/>
<ellipse cx="121.2" cy="277.02" rx="1.5" ry="1.3" fill="none" stroke="#1a1ae6" stroke-width="1.0"/>
<ellipse cx="121.7" cy="275.49" rx="1.5" ry="1.3" fill="none" stroke="#1a1ae6" stroke-width="1.0"/>
<ellipse cx="122.2" cy="273.9" rx="1.5" ry="1.3" fill="none" stroke="#1a1ae6" stroke-width="1.0"/>
<ellipse cx="122.4" cy="271.9" rx="1.6" ry="1.4" fill="none" stroke="#3030d8" stroke-width="0.65"/>
<ellipse cx="123.6" cy="269.6" rx="1.6" ry="1.4" fill="none" stroke="#3030d8" stroke-width="0.65"/>
<ellipse cx="125.7" cy="264.8" rx="1.6" ry="1.4" fill="none" stroke="#3030d8" stroke-width="0.65"/>
<ellipse cx="129.9" cy="254.1" rx="1.6" ry="1.4" fill="none" stroke="#3030d8" stroke-width="0.65"/>
<ellipse cx="130.9" cy="252" rx="1.6" ry="1.4" fill="none" stroke="#3030d8" stroke-width="0.65"/>
<ellipse cx="131.8" cy="249.9" rx="1.6" ry="1.4" fill="none" stroke="#3030d8" stroke-width="0.65"/>
<ellipse cx="132.5" cy="248.4" rx="1.6" ry="1.4" fill="none" stroke="#3030d8" stroke-width="0.65"/>
<ellipse cx="133.9" cy="245.4" rx="1.6" ry="1.4" fill="none" stroke="#3030d8" stroke-width="0.65"/>
<ellipse cx="137.9" cy="237.7" rx="1.6" ry="1.4" fill="none" stroke="#3030d8" stroke-width="0.65"/>
<ellipse cx="141.8" cy="231.2" rx="1.6" ry="1.4" fill="none" stroke="#3030d8" stroke-width="0.65"/>
<ellipse cx="145.2" cy="227" rx="1.6" ry="1.4" fill="none" stroke="#3030d8" stroke-width="0.65"/>
<ellipse cx="153" cy="221" rx="1.6" ry="1.4" fill="none" stroke="#3030d8" stroke-width="0.65"/>
<ellipse cx="183" cy="217.4" rx="1.6" ry="1.4" fill="none" stroke="#3030d8" stroke-width="0.65"/>
<ellipse cx="202.2" cy="217.6" rx="1.6" ry="1.4" fill="none" stroke="#3030d8" stroke-width="0.65"/>
<path d="M45.3 328.4 L45.77 328.13 L46.41 327.77 L47.17 327.33 L48.01 326.86 L48.87 326.37 L49.7 325.9 L50.4 325.5 L51.12 325.08 L51.87 324.65 L52.62 324.21 L53.38 323.79 L54.14 323.38 L54.9 323 L55.65 322.64 L56.41 322.29 L57.17 321.96 L57.93 321.64 L58.69 321.34 L59.45 321.06 L60.2 320.8 L61.08 320.52 L61.96 320.28 L62.84 320.06 L63.71 319.86 L64.57 319.67 L65.4 319.5 L66.34 319.32 L67.22 319.16 L68.09 319.03 L69 318.91 L70 318.8 L70.8 318.72 L71.67 318.64 L72.58 318.57 L73.5 318.51 L74.39 318.45 L75.24 318.42 L76 318.4 L76.9 318.41 L77.65 318.46 L78.35 318.52 L79.1 318.61 L80 318.7 L80.75 318.76 L81.57 318.83 L82.43 318.9 L83.32 318.99 L84.23 319.08 L85.13 319.18 L86 319.3 L86.85 319.45 L87.69 319.62 L88.52 319.8 L89.36 320 L90.21 320.18 L91.09 320.35 L92 320.5 L92.83 320.61 L93.7 320.71 L94.6 320.81 L95.5 320.89 L96.4 320.97 L97.3 321.03 L98.17 321.07 L99 321.1 L99.92 321.11 L100.82 321.09 L101.69 321.06 L102.55 321.01 L103.39 320.95 L104.2 320.88 L105 320.8 L105.95 320.69 L106.93 320.54 L107.88 320.38 L108.74 320.23 L109.47 320.09 L110 320" fill="none" stroke="#1a1aee" stroke-width="3.7" stroke-linecap="round" stroke-linejoin="round"/>
<ellipse cx="37.7" cy="332" rx="1.6" ry="1.4" fill="none" stroke="#3030d8" stroke-width="0.65"/>
<ellipse cx="39.8" cy="331" rx="1.6" ry="1.4" fill="none" stroke="#3030d8" stroke-width="0.65"/>
<ellipse cx="111.5" cy="319.7" rx="1.6" ry="1.4" fill="none" stroke="#3030d8" stroke-width="0.65"/>
<ellipse cx="113" cy="319.3" rx="1.6" ry="1.4" fill="none" stroke="#3030d8" stroke-width="0.65"/>
<ellipse cx="114.5" cy="318.8" rx="1.6" ry="1.4" fill="none" stroke="#3030d8" stroke-width="0.65"/>
<ellipse cx="116" cy="318.2" rx="1.6" ry="1.4" fill="none" stroke="#3030d8" stroke-width="0.65"/>
<ellipse cx="117.5" cy="317.6" rx="1.6" ry="1.4" fill="none" stroke="#3030d8" stroke-width="0.65"/>
<ellipse cx="119" cy="316.9" rx="1.6" ry="1.4" fill="none" stroke="#3030d8" stroke-width="0.65"/>
<ellipse cx="120.3" cy="316.1" rx="1.6" ry="1.4" fill="none" stroke="#3030d8" stroke-width="0.65"/>
<ellipse cx="121.6" cy="315.3" rx="1.6" ry="1.4" fill="none" stroke="#3030d8" stroke-width="0.65"/>
<ellipse cx="123.2" cy="314.3" rx="1.6" ry="1.4" fill="none" stroke="#3030d8" stroke-width="0.65"/>
<ellipse cx="125.5" cy="312.9" rx="1.6" ry="1.4" fill="none" stroke="#3030d8" stroke-width="0.65"/>
<ellipse cx="130.4" cy="309" rx="1.6" ry="1.4" fill="none" stroke="#3030d8" stroke-width="0.65"/>
<ellipse cx="132.1" cy="307.7" rx="1.6" ry="1.4" fill="none" stroke="#3030d8" stroke-width="0.65"/>
<ellipse cx="133.7" cy="306.6" rx="1.6" ry="1.4" fill="none" stroke="#3030d8" stroke-width="0.65"/>
<ellipse cx="137.9" cy="303.5" rx="1.6" ry="1.4" fill="none" stroke="#3030d8" stroke-width="0.65"/>
<ellipse cx="142.1" cy="299.8" rx="1.6" ry="1.4" fill="none" stroke="#3030d8" stroke-width="0.65"/>
<ellipse cx="145" cy="297.5" rx="1.6" ry="1.4" fill="none" stroke="#3030d8" stroke-width="0.65"/>
<ellipse cx="153.1" cy="292.5" rx="1.6" ry="1.4" fill="none" stroke="#3030d8" stroke-width="0.65"/>
<ellipse cx="183" cy="295.2" rx="1.6" ry="1.4" fill="none" stroke="#3030d8" stroke-width="0.65"/>
<ellipse cx="202" cy="311.3" rx="1.6" ry="1.4" fill="none" stroke="#3030d8" stroke-width="0.65"/>
<path d="M45 314.2 L45.49 314.19 L46.1 314.18 L46.82 314.17 L47.63 314.16 L48.51 314.14 L49.44 314.12 L50.4 314.11 L51.37 314.09 L52.34 314.07 L53.28 314.05 L54.17 314.02 L55 314 L55.85 313.97 L56.68 313.94 L57.5 313.91 L58.3 313.87 L59.1 313.84 L59.9 313.8 L60.7 313.76 L61.5 313.72 L62.32 313.68 L63.15 313.64 L64 313.6 L64.8 313.56 L65.61 313.5 L66.43 313.44 L67.26 313.37 L68.1 313.31 L68.94 313.24 L69.78 313.19 L70.63 313.14 L71.48 313.1 L72.32 313.08 L73.16 313.08 L74 313.1 L74.85 313.15 L75.72 313.22 L76.62 313.31 L77.52 313.42 L78.42 313.54 L79.31 313.68 L80.19 313.81 L81.04 313.94 L81.85 314.07 L82.62 314.2 L83.34 314.31 L84 314.4 L85.12 314.56 L86.04 314.69 L86.81 314.81 L87.52 314.92 L88.22 315.01 L89 315.1 L89.83 315.19 L90.67 315.27 L91.5 315.35 L92.33 315.4 L93.17 315.42 L94 315.4 L94.83 315.34 L95.67 315.24 L96.5 315.11 L97.33 314.95 L98.17 314.74 L99 314.5 L99.84 314.19 L100.7 313.82 L101.56 313.41 L102.41 312.99 L103.22 312.58 L104 312.2 L104.86 311.81 L105.65 311.47 L106.41 311.13 L107.18 310.75 L108 310.3 L108.73 309.86 L109.5 309.38 L110.28 308.86 L111.06 308.32 L111.8 307.77 L112.5 307.2 L113.16 306.59 L113.81 305.94 L114.44 305.26 L115.02 304.61 L115.54 304.01 L116 303.5 L116.97 302.42 L117.5 301.8" fill="none" stroke="#e60000" stroke-width="2.5" stroke-linecap="round" stroke-linejoin="round"/>
<circle cx="117.5" cy="301.8" r="1.1" fill="#e60000"/>
<circle cx="118.34" cy="300.93" r="1.1" fill="#e60000"/>
<circle cx="119.17" cy="300.06" r="1.1" fill="#e60000"/>
<circle cx="119.87" cy="299.29" r="1.1" fill="#e60000"/>
<circle cx="120.67" cy="298.4" r="1.1" fill="#e60000"/>
<circle cx="121.35" cy="297.61" r="1.1" fill="#e60000"/>
<circle cx="122" cy="296.8" r="1.1" fill="#e60000"/>
<circle cx="122.66" cy="295.9" r="1.1" fill="#e60000"/>
<circle cx="123.32" cy="294.92" r="1.1" fill="#e60000"/>
<circle cx="123.89" cy="294.07" r="1.1" fill="#e60000"/>
<circle cx="36.8" cy="314.1" r="1.05" fill="#e60000"/>
<circle cx="38.9" cy="314.1" r="1.05" fill="#e60000"/>
<circle cx="40.6" cy="314.1" r="1.05" fill="#e60000"/>
<circle cx="125.6" cy="290.7" r="1.05" fill="#e60000"/>
<circle cx="130" cy="282.4" r="1.05" fill="#e60000"/>
<circle cx="131.3" cy="280.1" r="1.05" fill="#e60000"/>
<circle cx="132.4" cy="278" r="1.05" fill="#e60000"/>
<circle cx="133.9" cy="275.1" r="1.05" fill="#e60000"/>
<circle cx="137.7" cy="267" r="1.05" fill="#e60000"/>
<circle cx="141.6" cy="258.8" r="1.05" fill="#e60000"/>
<circle cx="145.1" cy="252.4" r="1.05" fill="#e60000"/>
<circle cx="153" cy="239.3" r="1.05" fill="#e60000"/>
<circle cx="183" cy="220.1" r="1.05" fill="#e60000"/>
<circle cx="202.2" cy="218.2" r="1.05" fill="#e60000"/>
<path d="M270 193.95 L270 349.1 L447.5 349.1 L447.5 193.95" fill="none" stroke="#6e6e6e" stroke-width="0.9"/>
<line x1="269.6" y1="194.4" x2="316.1" y2="194.4" stroke="#c0c0c0" stroke-width="0.9"/>
<line x1="316.1" y1="194.4" x2="388" y2="194.4" stroke="#6e6e6e" stroke-width="0.9"/>
<line x1="388" y1="194.4" x2="447.9" y2="194.4" stroke="#c0c0c0" stroke-width="0.9"/>
<line x1="290.2" y1="349.1" x2="290.2" y2="353.3" stroke="#6e6e6e" stroke-width="0.9"/>
<text x="290.2" y="361" font-family="Liberation Serif" font-size="7" font-weight="normal" fill="#2a2a2a" text-anchor="middle" dominant-baseline="central">600</text>
<line x1="324.85" y1="349.1" x2="324.85" y2="353.3" stroke="#6e6e6e" stroke-width="0.9"/>
<text x="324.85" y="361" font-family="Liberation Serif" font-size="7" font-weight="normal" fill="#2a2a2a" text-anchor="middle" dominant-baseline="central">800</text>
<line x1="359.5" y1="349.1" x2="359.5" y2="353.3" stroke="#6e6e6e" stroke-width="0.9"/>
<text x="359.5" y="361" font-family="Liberation Serif" font-size="7" font-weight="normal" fill="#2a2a2a" text-anchor="middle" dominant-baseline="central">1000</text>
<line x1="394.15" y1="349.1" x2="394.15" y2="353.3" stroke="#6e6e6e" stroke-width="0.9"/>
<text x="394.15" y="361" font-family="Liberation Serif" font-size="7" font-weight="normal" fill="#2a2a2a" text-anchor="middle" dominant-baseline="central">1200</text>
<line x1="428.8" y1="349.1" x2="428.8" y2="353.3" stroke="#6e6e6e" stroke-width="0.9"/>
<text x="428.8" y="361" font-family="Liberation Serif" font-size="7" font-weight="normal" fill="#2a2a2a" text-anchor="middle" dominant-baseline="central">1400</text>
<line x1="266" y1="338.4" x2="270" y2="338.4" stroke="#6e6e6e" stroke-width="0.9"/>
<text x="258.7" y="338.4" font-family="Liberation Serif" font-size="7" font-weight="normal" fill="#2a2a2a" text-anchor="middle" dominant-baseline="central" textLength="9.6" lengthAdjust="spacing" transform="rotate(-90 258.7 338.4)">0.0</text>
<line x1="266" y1="314.12" x2="270" y2="314.12" stroke="#6e6e6e" stroke-width="0.9"/>
<text x="258.7" y="314.12" font-family="Liberation Serif" font-size="7" font-weight="normal" fill="#2a2a2a" text-anchor="middle" dominant-baseline="central" textLength="9.6" lengthAdjust="spacing" transform="rotate(-90 258.7 314.12)">0.2</text>
<line x1="266" y1="289.84" x2="270" y2="289.84" stroke="#6e6e6e" stroke-width="0.9"/>
<text x="258.7" y="289.84" font-family="Liberation Serif" font-size="7" font-weight="normal" fill="#2a2a2a" text-anchor="middle" dominant-baseline="central" textLength="9.6" lengthAdjust="spacing" transform="rotate(-90 258.7 289.84)">0.4</text>
<line x1="266" y1="265.56" x2="270" y2="265.56" stroke="#6e6e6e" stroke-width="0.9"/>
<text x="258.7" y="265.56" font-family="Liberation Serif" font-size="7" font-weight="normal" fill="#2a2a2a" text-anchor="middle" dominant-baseline="central" textLength="9.6" lengthAdjust="spacing" transform="rotate(-90 258.7 265.56)">0.6</text>
<line x1="266" y1="241.28" x2="270" y2="241.28" stroke="#6e6e6e" stroke-width="0.9"/>
<text x="258.7" y="241.28" font-family="Liberation Serif" font-size="7" font-weight="normal" fill="#2a2a2a" text-anchor="middle" dominant-baseline="central" textLength="9.6" lengthAdjust="spacing" transform="rotate(-90 258.7 241.28)">0.8</text>
<line x1="266" y1="217" x2="270" y2="217" stroke="#6e6e6e" stroke-width="0.9"/>
<text x="258.7" y="217" font-family="Liberation Serif" font-size="7" font-weight="normal" fill="#2a2a2a" text-anchor="middle" dominant-baseline="central" textLength="9.6" lengthAdjust="spacing" transform="rotate(-90 258.7 217)">1.0</text>
<text x="243.7" y="271.75" font-family="Liberation Serif" font-size="6.2" font-weight="normal" fill="#444" text-anchor="middle" dominant-baseline="central" textLength="6.3" lengthAdjust="spacingAndGlyphs" transform="rotate(-90 243.7 271.75)">ED</text>
<text x="358.7" y="375.7" font-family="Liberation Serif" font-size="7.3" font-weight="normal" fill="#3a3a3a" text-anchor="middle" dominant-baseline="central" textLength="18.6" lengthAdjust="spacingAndGlyphs">TyG-WC</text>
<text x="277.2" y="206.5" font-family="Liberation Sans" font-size="14.5" font-weight="bold" fill="#000" text-anchor="start" dominant-baseline="central">d</text>
<line x1="376.9" y1="217" x2="376.9" y2="349.1" stroke="#e77f7f" stroke-width="1.1" stroke-dasharray="1.5 0.6"/>
<text x="381.4" y="340.7" font-family="Liberation Sans" font-size="6.3" font-weight="normal" fill="#333" text-anchor="start" dominant-baseline="central" textLength="28.6" lengthAdjust="spacingAndGlyphs">x=1128.25</text>
<ellipse cx="282" cy="284.2" rx="1.5" ry="1.3" fill="none" stroke="#1a1ae6" stroke-width="1.0"/>
<ellipse cx="283.2" cy="285.56" rx="1.5" ry="1.3" fill="none" stroke="#1a1ae6" stroke-width="1.0"/>
<ellipse cx="284.34" cy="286.83" rx="1.5" ry="1.3" fill="none" stroke="#1a1ae6" stroke-width="1.0"/>
<ellipse cx="285.58" cy="288.18" rx="1.5" ry="1.3" fill="none" stroke="#1a1ae6" stroke-width="1.0"/>
<ellipse cx="286.88" cy="289.57" rx="1.5" ry="1.3" fill="none" stroke="#1a1ae6" stroke-width="1.0"/>
<ellipse cx="288.19" cy="290.86" rx="1.5" ry="1.3" fill="none" stroke="#1a1ae6" stroke-width="1.0"/>
<ellipse cx="289.59" cy="292.08" rx="1.5" ry="1.3" fill="none" stroke="#1a1ae6" stroke-width="1.0"/>
<ellipse cx="291.05" cy="293.2" rx="1.5" ry="1.3" fill="none" stroke="#1a1ae6" stroke-width="1.0"/>
<ellipse cx="292.56" cy="294.19" rx="1.5" ry="1.3" fill="none" stroke="#1a1ae6" stroke-width="1.0"/>
<path d="M293.2 294.6 L293.65 294.95 L294.26 295.43 L294.98 296 L295.78 296.62 L296.61 297.24 L297.43 297.81 L298.2 298.3 L298.92 298.7 L299.63 299.05 L300.34 299.37 L301.06 299.67 L301.81 299.97 L302.58 300.27 L303.4 300.6 L304.13 300.9 L304.87 301.21 L305.62 301.53 L306.4 301.84 L307.21 302.16 L308.08 302.48 L309 302.79 L310 303.1 L310.71 303.31 L311.47 303.52 L312.26 303.73 L313.08 303.95 L313.93 304.16 L314.79 304.38 L315.66 304.58 L316.54 304.79 L317.42 304.98 L318.29 305.16 L319.16 305.34 L320 305.5 L320.83 305.65 L321.67 305.79 L322.5 305.92 L323.33 306.04 L324.17 306.16 L325 306.27 L325.83 306.37 L326.67 306.47 L327.5 306.56 L328.33 306.64 L329.17 306.72 L330 306.8 L330.84 306.87 L331.69 306.94 L332.55 307 L333.41 307.05 L334.27 307.1 L335.12 307.14 L335.98 307.17 L336.81 307.21 L337.64 307.24 L338.45 307.26 L339.24 307.28 L340 307.3 L340.87 307.32 L341.7 307.34 L342.48 307.35 L343.25 307.36 L344 307.36 L344.75 307.35 L345.52 307.33 L346.3 307.3 L347.13 307.26 L348 307.2 L348.78 307.14 L349.61 307.07 L350.48 307 L351.37 306.91 L352.28 306.82 L353.19 306.72 L354.09 306.62 L354.96 306.51 L355.8 306.39 L356.6 306.26 L357.34 306.14 L358 306 L359.12 305.71 L360.04 305.41 L360.81 305.07 L361.52 304.71 L362.22 304.32 L363 303.9 L363.71 303.51 L364.43 303.1 L365.14 302.66 L365.86 302.2 L366.57 301.72 L367.29 301.22 L368 300.7 L368.63 300.22 L369.28 299.69 L369.93 299.15 L370.57 298.59 L371.21 298.04 L371.83 297.5 L372.43 296.98 L373 296.5 L373.75 295.88 L374.5 295.27 L375.21 294.69 L375.86 294.16 L376.4 293.72 L376.8 293.4" fill="none" stroke="#1a1aee" stroke-width="3.7" stroke-linecap="round" stroke-linejoin="round"/>
<ellipse cx="376.8" cy="293.4" rx="1.5" ry="1.3" fill="none" stroke="#1a1ae6" stroke-width="1.0"/>
<ellipse cx="377.94" cy="292.1" rx="1.5" ry="1.3" fill="none" stroke="#1a1ae6" stroke-width="1.0"/>
<ellipse cx="379.17" cy="290.68" rx="1.5" ry="1.3" fill="none" stroke="#1a1ae6" stroke-width="1.0"/>
<ellipse cx="380.28" cy="289.36" rx="1.5" ry="1.3" fill="none" stroke="#1a1ae6" stroke-width="1.0"/>
<ellipse cx="381.47" cy="287.96" rx="1.5" ry="1.3" fill="none" stroke="#1a1ae6" stroke-width="1.0"/>
<ellipse cx="382.5" cy="286.5" rx="1.5" ry="1.3" fill="none" stroke="#1a1ae6" stroke-width="1.0"/>
<ellipse cx="383.27" cy="284.85" rx="1.5" ry="1.3" fill="none" stroke="#1a1ae6" stroke-width="1.0"/>
<ellipse cx="383.95" cy="283.14" rx="1.5" ry="1.3" fill="none" stroke="#1a1ae6" stroke-width="1.0"/>
<ellipse cx="384.82" cy="281.47" rx="1.5" ry="1.3" fill="none" stroke="#1a1ae6" stroke-width="1.0"/>
<ellipse cx="385.79" cy="279.87" rx="1.5" ry="1.3" fill="none" stroke="#1a1ae6" stroke-width="1.0"/>
<ellipse cx="386.69" cy="278.37" rx="1.5" ry="1.3" fill="none" stroke="#1a1ae6" stroke-width="1.0"/>
<ellipse cx="387.6" cy="276.81" rx="1.5" ry="1.3" fill="none" stroke="#1a1ae6" stroke-width="1.0"/>
<ellipse cx="276.4" cy="276" rx="1.6" ry="1.4" fill="none" stroke="#3030d8" stroke-width="0.65"/>
<ellipse cx="280.3" cy="281.7" rx="1.6" ry="1.4" fill="none" stroke="#3030d8" stroke-width="0.65"/>
<ellipse cx="389.5" cy="272.5" rx="1.6" ry="1.4" fill="none" stroke="#3030d8" stroke-width="0.65"/>
<ellipse cx="391.1" cy="268.8" rx="1.6" ry="1.4" fill="none" stroke="#3030d8" stroke-width="0.65"/>
<ellipse cx="392.7" cy="265.3" rx="1.6" ry="1.4" fill="none" stroke="#3030d8" stroke-width="0.65"/>
<ellipse cx="395.3" cy="259.9" rx="1.6" ry="1.4" fill="none" stroke="#3030d8" stroke-width="0.65"/>
<ellipse cx="396.2" cy="257.9" rx="1.6" ry="1.4" fill="none" stroke="#3030d8" stroke-width="0.65"/>
<ellipse cx="397.2" cy="255.8" rx="1.6" ry="1.4" fill="none" stroke="#3030d8" stroke-width="0.65"/>
<ellipse cx="398.2" cy="253.7" rx="1.6" ry="1.4" fill="none" stroke="#3030d8" stroke-width="0.65"/>
<ellipse cx="399.2" cy="251.5" rx="1.6" ry="1.4" fill="none" stroke="#3030d8" stroke-width="0.65"/>
<ellipse cx="402.2" cy="245.2" rx="1.6" ry="1.4" fill="none" stroke="#3030d8" stroke-width="0.65"/>
<ellipse cx="403.8" cy="243.4" rx="1.6" ry="1.4" fill="none" stroke="#3030d8" stroke-width="0.65"/>
<ellipse cx="411.9" cy="231.4" rx="1.6" ry="1.4" fill="none" stroke="#3030d8" stroke-width="0.65"/>
<ellipse cx="416.6" cy="226.2" rx="1.6" ry="1.4" fill="none" stroke="#3030d8" stroke-width="0.65"/>
<ellipse cx="434.1" cy="218.3" rx="1.6" ry="1.4" fill="none" stroke="#3030d8" stroke-width="0.65"/>
<ellipse cx="440.7" cy="217.5" rx="1.6" ry="1.4" fill="none" stroke="#3030d8" stroke-width="0.65"/>
<ellipse cx="282.5" cy="329.8" rx="1.6" ry="1.4" fill="none" stroke="#3030d8" stroke-width="0.65"/>
<ellipse cx="284.35" cy="328.92" rx="1.6" ry="1.4" fill="none" stroke="#3030d8" stroke-width="0.65"/>
<ellipse cx="286.12" cy="328.07" rx="1.6" ry="1.4" fill="none" stroke="#3030d8" stroke-width="0.65"/>
<ellipse cx="287.77" cy="327.3" rx="1.6" ry="1.4" fill="none" stroke="#3030d8" stroke-width="0.65"/>
<ellipse cx="289.44" cy="326.58" rx="1.6" ry="1.4" fill="none" stroke="#3030d8" stroke-width="0.65"/>
<ellipse cx="291.24" cy="325.82" rx="1.6" ry="1.4" fill="none" stroke="#3030d8" stroke-width="0.65"/>
<ellipse cx="292.9" cy="325.1" rx="1.6" ry="1.4" fill="none" stroke="#3030d8" stroke-width="0.65"/>
<ellipse cx="294.61" cy="324.27" rx="1.6" ry="1.4" fill="none" stroke="#3030d8" stroke-width="0.65"/>
<ellipse cx="296.29" cy="323.41" rx="1.6" ry="1.4" fill="none" stroke="#3030d8" stroke-width="0.65"/>
<path d="M296.5 323 L297.03 322.68 L298.2 322.1 L298.85 321.82 L299.62 321.49 L300.49 321.12 L301.43 320.76 L302.41 320.41 L303.4 320.1 L304.13 319.9 L304.87 319.72 L305.62 319.54 L306.4 319.38 L307.21 319.23 L308.08 319.08 L309 318.94 L310 318.8 L310.71 318.71 L311.47 318.62 L312.26 318.53 L313.08 318.44 L313.93 318.36 L314.79 318.28 L315.66 318.2 L316.54 318.13 L317.42 318.06 L318.29 318 L319.16 317.95 L320 317.9 L320.83 317.86 L321.67 317.84 L322.5 317.82 L323.33 317.81 L324.17 317.8 L325 317.8 L325.83 317.8 L326.67 317.8 L327.5 317.81 L328.33 317.81 L329.17 317.81 L330 317.8 L330.83 317.79 L331.67 317.77 L332.5 317.75 L333.33 317.73 L334.17 317.71 L335 317.69 L335.83 317.67 L336.67 317.66 L337.5 317.65 L338.33 317.66 L339.17 317.67 L340 317.7 L340.84 317.74 L341.69 317.8 L342.55 317.87 L343.41 317.94 L344.27 318.03 L345.12 318.12 L345.98 318.21 L346.81 318.3 L347.64 318.39 L348.45 318.47 L349.24 318.54 L350 318.6 L350.87 318.66 L351.7 318.73 L352.48 318.79 L353.25 318.84 L354 318.89 L354.75 318.93 L355.52 318.96 L356.3 318.99 L357.13 319 L358 319 L358.77 318.99 L359.56 318.98 L360.39 318.96 L361.23 318.94 L362.09 318.91 L362.95 318.88 L363.82 318.83 L364.68 318.78 L365.54 318.72 L366.38 318.66 L367.2 318.58 L368 318.5 L368.88 318.39 L369.79 318.25 L370.72 318.1 L371.66 317.93 L372.58 317.76 L373.46 317.58 L374.3 317.41 L375.07 317.25 L375.75 317.11 L376.34 316.99 L376.8 316.9" fill="none" stroke="#1a1aee" stroke-width="3.7" stroke-linecap="round" stroke-linejoin="round"/>
<ellipse cx="376.8" cy="316.9" rx="1.5" ry="1.3" fill="none" stroke="#1a1ae6" stroke-width="1.0"/>
<ellipse cx="378.72" cy="316.26" rx="1.5" ry="1.3" fill="none" stroke="#1a1ae6" stroke-width="1.0"/>
<ellipse cx="380.72" cy="315.59" rx="1.5" ry="1.3" fill="none" stroke="#1a1ae6" stroke-width="1.0"/>
<ellipse cx="382.63" cy="314.93" rx="1.5" ry="1.3" fill="none" stroke="#1a1ae6" stroke-width="1.0"/>
<ellipse cx="384.6" cy="314.26" rx="1.5" ry="1.3" fill="none" stroke="#1a1ae6" stroke-width="1.0"/>
<ellipse cx="386.63" cy="313.54" rx="1.5" ry="1.3" fill="none" stroke="#1a1ae6" stroke-width="1.0"/>
<ellipse cx="388.48" cy="312.64" rx="1.5" ry="1.3" fill="none" stroke="#1a1ae6" stroke-width="1.0"/>
<ellipse cx="390.32" cy="311.47" rx="1.5" ry="1.3" fill="none" stroke="#1a1ae6" stroke-width="1.0"/>
<ellipse cx="392.05" cy="310.3" rx="1.5" ry="1.3" fill="none" stroke="#1a1ae6" stroke-width="1.0"/>
<ellipse cx="393.8" cy="309.2" rx="1.5" ry="1.3" fill="none" stroke="#1a1ae6" stroke-width="1.0"/>
<ellipse cx="395.65" cy="308.23" rx="1.5" ry="1.3" fill="none" stroke="#1a1ae6" stroke-width="1.0"/>
<ellipse cx="397.54" cy="307.31" rx="1.5" ry="1.3" fill="none" stroke="#1a1ae6" stroke-width="1.0"/>
<ellipse cx="399.45" cy="306.35" rx="1.5" ry="1.3" fill="none" stroke="#1a1ae6" stroke-width="1.0"/>
<ellipse cx="401.18" cy="305.28" rx="1.5" ry="1.3" fill="none" stroke="#1a1ae6" stroke-width="1.0"/>
<ellipse cx="402.92" cy="304.01" rx="1.5" ry="1.3" fill="none" stroke="#1a1ae6" stroke-width="1.0"/>
<ellipse cx="276.4" cy="331.9" rx="1.6" ry="1.4" fill="none" stroke="#3030d8" stroke-width="0.65"/>
<ellipse cx="280.4" cy="330.6" rx="1.6" ry="1.4" fill="none" stroke="#3030d8" stroke-width="0.65"/>
<ellipse cx="411.4" cy="298.3" rx="1.6" ry="1.4" fill="none" stroke="#3030d8" stroke-width="0.65"/>
<ellipse cx="416.4" cy="296" rx="1.6" ry="1.4" fill="none" stroke="#3030d8" stroke-width="0.65"/>
<ellipse cx="434.1" cy="292.9" rx="1.6" ry="1.4" fill="none" stroke="#3030d8" stroke-width="0.65"/>
<ellipse cx="440.7" cy="293.5" rx="1.6" ry="1.4" fill="none" stroke="#3030d8" stroke-width="0.65"/>
<path d="M280.4 315.1 L280.87 315.05 L281.47 314.98 L282.17 314.91 L282.97 314.82 L283.84 314.73 L284.76 314.63 L285.72 314.52 L286.71 314.41 L287.7 314.3 L288.4 314.22 L289.13 314.13 L289.88 314.04 L290.65 313.94 L291.45 313.84 L292.26 313.73 L293.08 313.63 L293.92 313.53 L294.77 313.43 L295.62 313.34 L296.48 313.25 L297.34 313.17 L298.2 313.1 L299.01 313.04 L299.83 312.99 L300.68 312.94 L301.53 312.89 L302.39 312.85 L303.26 312.81 L304.13 312.78 L305 312.74 L305.87 312.71 L306.72 312.69 L307.57 312.66 L308.4 312.64 L309.21 312.62 L310 312.6 L310.9 312.58 L311.77 312.57 L312.63 312.56 L313.47 312.55 L314.29 312.54 L315.11 312.54 L315.92 312.55 L316.73 312.55 L317.54 312.56 L318.35 312.57 L319.17 312.58 L320 312.6 L320.83 312.62 L321.67 312.64 L322.5 312.66 L323.33 312.69 L324.17 312.72 L325 312.76 L325.83 312.79 L326.67 312.83 L327.5 312.87 L328.33 312.91 L329.17 312.95 L330 313 L330.83 313.05 L331.67 313.1 L332.5 313.16 L333.33 313.22 L334.17 313.28 L335 313.34 L335.83 313.41 L336.67 313.47 L337.5 313.53 L338.33 313.59 L339.17 313.65 L340 313.7 L340.84 313.75 L341.69 313.81 L342.55 313.86 L343.41 313.91 L344.27 313.97 L345.12 314.02 L345.98 314.07 L346.81 314.11 L347.64 314.14 L348.45 314.17 L349.24 314.19 L350 314.2 L350.89 314.2 L351.78 314.19 L352.64 314.17 L353.49 314.14 L354.31 314.1 L355.11 314.05 L355.88 314 L356.62 313.94 L357.33 313.87 L358 313.8 L359.01 313.67 L359.89 313.51 L360.69 313.34 L361.44 313.15 L362.2 312.94 L363 312.7 L363.83 312.44 L364.67 312.16 L365.5 311.85 L366.33 311.52 L367.17 311.17 L368 310.8 L368.72 310.45 L369.46 310.07 L370.21 309.67 L370.94 309.26 L371.66 308.86 L372.35 308.47 L373 308.1 L373.85 307.63 L374.64 307.2 L375.38 306.78 L376.1 306.35 L376.8 305.9 L377.49 305.41 L378.16 304.89 L378.8 304.37 L379.41 303.87 L380 303.4 L380.98 302.65 L381.88 301.97 L382.5 301.5" fill="none" stroke="#e60000" stroke-width="2.5" stroke-linecap="round" stroke-linejoin="round"/>
<circle cx="384" cy="299.6" r="1.0" fill="#e60000"/>
<circle cx="384.81" cy="298.88" r="1.0" fill="#e60000"/>
<circle cx="385.5" cy="298.26" r="1.0" fill="#e60000"/>
<circle cx="386.38" cy="297.53" r="1.0" fill="#e60000"/>
<circle cx="387.2" cy="296.88" r="1.0" fill="#e60000"/>
<circle cx="388.8" cy="295.2" r="1.0" fill="#e60000"/>
<circle cx="389.48" cy="294.29" r="1.0" fill="#e60000"/>
<circle cx="276.4" cy="315.2" r="1.05" fill="#e60000"/>
<circle cx="392.6" cy="289.7" r="1.05" fill="#e60000"/>
<circle cx="395.2" cy="285.7" r="1.0" fill="#e60000"/>
<circle cx="395.81" cy="284.78" r="1.0" fill="#e60000"/>
<circle cx="396.35" cy="283.97" r="1.0" fill="#e60000"/>
<circle cx="396.95" cy="283.08" r="1.0" fill="#e60000"/>
<circle cx="397.53" cy="282.2" r="1.0" fill="#e60000"/>
<circle cx="398.12" cy="281.32" r="1.0" fill="#e60000"/>
<circle cx="398.65" cy="280.52" r="1.0" fill="#e60000"/>
<circle cx="399.25" cy="279.63" r="1.0" fill="#e60000"/>
<circle cx="403" cy="273.1" r="1.05" fill="#e60000"/>
<circle cx="404.1" cy="271.6" r="1.05" fill="#e60000"/>
<circle cx="411.7" cy="258.8" r="1.05" fill="#e60000"/>
<circle cx="416.2" cy="251" r="1.05" fill="#e60000"/>
<circle cx="434.1" cy="231.9" r="1.05" fill="#e60000"/>
<circle cx="440.7" cy="227.5" r="1.05" fill="#e60000"/>
<path d="M505.4 194.15 L505.4 349.4 L682.5 349.4 L682.5 194.15" fill="none" stroke="#6e6e6e" stroke-width="0.9"/>
<line x1="505" y1="194.6" x2="611.9" y2="194.6" stroke="#b4b4b4" stroke-width="0.9"/>
<line x1="611.9" y1="194.6" x2="682.9" y2="194.6" stroke="#6e6e6e" stroke-width="0.9"/>
<line x1="513.7" y1="349.4" x2="513.7" y2="353.6" stroke="#6e6e6e" stroke-width="0.9"/>
<text x="513.7" y="361.3" font-family="Liberation Serif" font-size="7" font-weight="normal" fill="#2a2a2a" text-anchor="middle" dominant-baseline="central">3</text>
<line x1="543.26" y1="349.4" x2="543.26" y2="353.6" stroke="#6e6e6e" stroke-width="0.9"/>
<text x="543.26" y="361.3" font-family="Liberation Serif" font-size="7" font-weight="normal" fill="#2a2a2a" text-anchor="middle" dominant-baseline="central">4</text>
<line x1="572.82" y1="349.4" x2="572.82" y2="353.6" stroke="#6e6e6e" stroke-width="0.9"/>
<text x="572.82" y="361.3" font-family="Liberation Serif" font-size="7" font-weight="normal" fill="#2a2a2a" text-anchor="middle" dominant-baseline="central">5</text>
<line x1="602.38" y1="349.4" x2="602.38" y2="353.6" stroke="#6e6e6e" stroke-width="0.9"/>
<text x="602.38" y="361.3" font-family="Liberation Serif" font-size="7" font-weight="normal" fill="#2a2a2a" text-anchor="middle" dominant-baseline="central">6</text>
<line x1="631.94" y1="349.4" x2="631.94" y2="353.6" stroke="#6e6e6e" stroke-width="0.9"/>
<text x="631.94" y="361.3" font-family="Liberation Serif" font-size="7" font-weight="normal" fill="#2a2a2a" text-anchor="middle" dominant-baseline="central">7</text>
<line x1="661.5" y1="349.4" x2="661.5" y2="353.6" stroke="#6e6e6e" stroke-width="0.9"/>
<text x="661.5" y="361.3" font-family="Liberation Serif" font-size="7" font-weight="normal" fill="#2a2a2a" text-anchor="middle" dominant-baseline="central">8</text>
<line x1="501.4" y1="337.6" x2="505.4" y2="337.6" stroke="#6e6e6e" stroke-width="0.9"/>
<text x="494.1" y="337.6" font-family="Liberation Serif" font-size="7" font-weight="normal" fill="#2a2a2a" text-anchor="middle" dominant-baseline="central" textLength="9.6" lengthAdjust="spacing" transform="rotate(-90 494.1 337.6)">0.0</text>
<line x1="501.4" y1="313.54" x2="505.4" y2="313.54" stroke="#6e6e6e" stroke-width="0.9"/>
<text x="494.1" y="313.54" font-family="Liberation Serif" font-size="7" font-weight="normal" fill="#2a2a2a" text-anchor="middle" dominant-baseline="central" textLength="9.6" lengthAdjust="spacing" transform="rotate(-90 494.1 313.54)">0.2</text>
<line x1="501.4" y1="289.48" x2="505.4" y2="289.48" stroke="#6e6e6e" stroke-width="0.9"/>
<text x="494.1" y="289.48" font-family="Liberation Serif" font-size="7" font-weight="normal" fill="#2a2a2a" text-anchor="middle" dominant-baseline="central" textLength="9.6" lengthAdjust="spacing" transform="rotate(-90 494.1 289.48)">0.4</text>
<line x1="501.4" y1="265.42" x2="505.4" y2="265.42" stroke="#6e6e6e" stroke-width="0.9"/>
<text x="494.1" y="265.42" font-family="Liberation Serif" font-size="7" font-weight="normal" fill="#2a2a2a" text-anchor="middle" dominant-baseline="central" textLength="9.6" lengthAdjust="spacing" transform="rotate(-90 494.1 265.42)">0.6</text>
<line x1="501.4" y1="241.36" x2="505.4" y2="241.36" stroke="#6e6e6e" stroke-width="0.9"/>
<text x="494.1" y="241.36" font-family="Liberation Serif" font-size="7" font-weight="normal" fill="#2a2a2a" text-anchor="middle" dominant-baseline="central" textLength="9.6" lengthAdjust="spacing" transform="rotate(-90 494.1 241.36)">0.8</text>
<line x1="501.4" y1="217.3" x2="505.4" y2="217.3" stroke="#6e6e6e" stroke-width="0.9"/>
<text x="494.1" y="217.3" font-family="Liberation Serif" font-size="7" font-weight="normal" fill="#2a2a2a" text-anchor="middle" dominant-baseline="central" textLength="9.6" lengthAdjust="spacing" transform="rotate(-90 494.1 217.3)">1.0</text>
<text x="479.1" y="272" font-family="Liberation Serif" font-size="6.2" font-weight="normal" fill="#444" text-anchor="middle" dominant-baseline="central" textLength="6.3" lengthAdjust="spacingAndGlyphs" transform="rotate(-90 479.1 272)">ED</text>
<text x="594" y="375.7" font-family="Liberation Serif" font-size="7.3" font-weight="normal" fill="#3a3a3a" text-anchor="middle" dominant-baseline="central" textLength="24.8" lengthAdjust="spacingAndGlyphs">TyG-WHtR</text>
<text x="514.2" y="207.4" font-family="Liberation Serif" font-size="14.5" font-weight="bold" fill="#000" text-anchor="start" dominant-baseline="central">e</text>
<line x1="615.8" y1="219.6" x2="615.8" y2="349.4" stroke="#e77f7f" stroke-width="1.1" stroke-dasharray="1.5 0.6"/>
<text x="620.6" y="342" font-family="Liberation Sans" font-size="6.3" font-weight="normal" fill="#333" text-anchor="start" dominant-baseline="central" textLength="18.7" lengthAdjust="spacingAndGlyphs">x=6.42</text>
<ellipse cx="511.7" cy="270.8" rx="1.6" ry="1.4" fill="none" stroke="#3030d8" stroke-width="0.65"/>
<ellipse cx="513.8" cy="274.9" rx="1.6" ry="1.4" fill="none" stroke="#3030d8" stroke-width="0.65"/>
<ellipse cx="514.6" cy="276.2" rx="1.6" ry="1.4" fill="none" stroke="#3030d8" stroke-width="0.65"/>
<ellipse cx="515.4" cy="277.6" rx="1.6" ry="1.4" fill="none" stroke="#3030d8" stroke-width="0.65"/>
<ellipse cx="517" cy="280.7" rx="1.6" ry="1.4" fill="none" stroke="#3030d8" stroke-width="0.65"/>
<ellipse cx="517.9" cy="282" rx="1.6" ry="1.4" fill="none" stroke="#3030d8" stroke-width="0.65"/>
<ellipse cx="518.8" cy="283.2" rx="1.6" ry="1.4" fill="none" stroke="#3030d8" stroke-width="0.65"/>
<ellipse cx="519.6" cy="284.4" rx="1.6" ry="1.4" fill="none" stroke="#3030d8" stroke-width="0.65"/>
<ellipse cx="522.2" cy="288" rx="1.5" ry="1.3" fill="none" stroke="#1a1ae6" stroke-width="1.0"/>
<ellipse cx="523.35" cy="289.41" rx="1.5" ry="1.3" fill="none" stroke="#1a1ae6" stroke-width="1.0"/>
<ellipse cx="524.48" cy="290.79" rx="1.5" ry="1.3" fill="none" stroke="#1a1ae6" stroke-width="1.0"/>
<ellipse cx="525.64" cy="292.23" rx="1.5" ry="1.3" fill="none" stroke="#1a1ae6" stroke-width="1.0"/>
<ellipse cx="526.75" cy="293.61" rx="1.5" ry="1.3" fill="none" stroke="#1a1ae6" stroke-width="1.0"/>
<path d="M526.9 293.5 L527.33 293.8 L527.9 294.21 L528.57 294.69 L529.33 295.22 L530.13 295.79 L530.95 296.36 L531.75 296.92 L532.51 297.44 L533.2 297.9 L533.99 298.43 L534.73 298.93 L535.43 299.41 L536.13 299.87 L536.84 300.3 L537.59 300.71 L538.4 301.1 L539.13 301.42 L539.87 301.72 L540.62 302.01 L541.4 302.27 L542.21 302.53 L543.08 302.76 L544 302.99 L545 303.2 L545.71 303.33 L546.47 303.46 L547.26 303.59 L548.08 303.7 L548.93 303.81 L549.79 303.92 L550.66 304.02 L551.54 304.11 L552.42 304.19 L553.29 304.27 L554.16 304.34 L555 304.4 L555.83 304.45 L556.67 304.49 L557.5 304.52 L558.33 304.54 L559.17 304.55 L560 304.56 L560.83 304.56 L561.67 304.56 L562.5 304.57 L563.33 304.57 L564.17 304.58 L565 304.6 L565.84 304.62 L566.69 304.64 L567.55 304.67 L568.41 304.69 L569.27 304.72 L570.12 304.74 L570.98 304.77 L571.81 304.8 L572.64 304.82 L573.45 304.85 L574.24 304.87 L575 304.9 L575.87 304.93 L576.7 304.97 L577.48 305.02 L578.25 305.06 L579 305.11 L579.75 305.14 L580.52 305.18 L581.3 305.2 L582.13 305.21 L583 305.2 L583.78 305.19 L584.61 305.17 L585.48 305.15 L586.37 305.12 L587.28 305.08 L588.19 305.04 L589.09 304.99 L589.96 304.94 L590.8 304.87 L591.6 304.79 L592.34 304.7 L593 304.6 L594.12 304.36 L595.04 304.08 L595.81 303.76 L596.52 303.41 L597.22 303.02 L598 302.6 L598.71 302.21 L599.43 301.79 L600.14 301.34 L600.86 300.87 L601.57 300.39 L602.29 299.89 L603 299.4 L603.73 298.89 L604.48 298.36 L605.23 297.81 L605.98 297.26 L606.7 296.72 L607.37 296.2 L608 295.7 L608.82 295.01 L609.6 294.31 L610.3 293.65 L610.88 293.1 L611.3 292.7" fill="none" stroke="#1a1aee" stroke-width="3.7" stroke-linecap="round" stroke-linejoin="round"/>
<ellipse cx="613.2" cy="289.4" rx="1.5" ry="1.3" fill="none" stroke="#1a1ae6" stroke-width="1.0"/>
<ellipse cx="614.3" cy="287.95" rx="1.5" ry="1.3" fill="none" stroke="#1a1ae6" stroke-width="1.0"/>
<ellipse cx="615.4" cy="286.5" rx="1.5" ry="1.3" fill="none" stroke="#1a1ae6" stroke-width="1.0"/>
<ellipse cx="616.5" cy="285.05" rx="1.5" ry="1.3" fill="none" stroke="#1a1ae6" stroke-width="1.0"/>
<ellipse cx="617.53" cy="283.69" rx="1.5" ry="1.3" fill="none" stroke="#1a1ae6" stroke-width="1.0"/>
<ellipse cx="619" cy="279.5" rx="1.5" ry="1.3" fill="none" stroke="#1a1ae6" stroke-width="1.0"/>
<ellipse cx="620.1" cy="278" rx="1.5" ry="1.3" fill="none" stroke="#1a1ae6" stroke-width="1.0"/>
<ellipse cx="621.2" cy="276.6" rx="1.5" ry="1.3" fill="none" stroke="#1a1ae6" stroke-width="1.0"/>
<ellipse cx="624.5" cy="268.8" rx="1.6" ry="1.4" fill="none" stroke="#3030d8" stroke-width="0.65"/>
<ellipse cx="625.4" cy="267.3" rx="1.6" ry="1.4" fill="none" stroke="#3030d8" stroke-width="0.65"/>
<ellipse cx="628.2" cy="261.5" rx="1.6" ry="1.4" fill="none" stroke="#3030d8" stroke-width="0.65"/>
<ellipse cx="631.3" cy="254.4" rx="1.6" ry="1.4" fill="none" stroke="#3030d8" stroke-width="0.65"/>
<ellipse cx="634.2" cy="247.8" rx="1.6" ry="1.4" fill="none" stroke="#3030d8" stroke-width="0.65"/>
<ellipse cx="635.3" cy="245.7" rx="1.6" ry="1.4" fill="none" stroke="#3030d8" stroke-width="0.65"/>
<ellipse cx="639.7" cy="237.3" rx="1.6" ry="1.4" fill="none" stroke="#3030d8" stroke-width="0.65"/>
<ellipse cx="643.8" cy="231.1" rx="1.6" ry="1.4" fill="none" stroke="#3030d8" stroke-width="0.65"/>
<ellipse cx="650.7" cy="224" rx="1.6" ry="1.4" fill="none" stroke="#3030d8" stroke-width="0.65"/>
<ellipse cx="652.7" cy="222.7" rx="1.6" ry="1.4" fill="none" stroke="#3030d8" stroke-width="0.65"/>
<ellipse cx="676.2" cy="217.5" rx="1.6" ry="1.4" fill="none" stroke="#3030d8" stroke-width="0.65"/>
<ellipse cx="511.2" cy="331.9" rx="1.6" ry="1.4" fill="none" stroke="#3030d8" stroke-width="0.65"/>
<ellipse cx="513.2" cy="331.27" rx="1.6" ry="1.4" fill="none" stroke="#3030d8" stroke-width="0.65"/>
<ellipse cx="515.19" cy="330.64" rx="1.6" ry="1.4" fill="none" stroke="#3030d8" stroke-width="0.65"/>
<ellipse cx="517.08" cy="329.99" rx="1.6" ry="1.4" fill="none" stroke="#3030d8" stroke-width="0.65"/>
<ellipse cx="519" cy="329.33" rx="1.6" ry="1.4" fill="none" stroke="#3030d8" stroke-width="0.65"/>
<ellipse cx="520.99" cy="328.67" rx="1.6" ry="1.4" fill="none" stroke="#3030d8" stroke-width="0.65"/>
<path d="M522.7 328.1 L523.18 327.89 L523.83 327.61 L524.61 327.27 L525.46 326.9 L526.34 326.52 L527.2 326.14 L528 325.8 L528.75 325.48 L529.49 325.16 L530.24 324.84 L530.98 324.53 L531.72 324.22 L532.46 323.91 L533.2 323.6 L533.93 323.29 L534.64 322.99 L535.36 322.68 L536.07 322.38 L536.81 322.08 L537.58 321.79 L538.4 321.5 L539.13 321.25 L539.87 321 L540.62 320.76 L541.4 320.52 L542.21 320.28 L543.08 320.05 L544 319.82 L545 319.6 L545.71 319.45 L546.47 319.31 L547.26 319.17 L548.08 319.03 L548.93 318.89 L549.79 318.75 L550.66 318.62 L551.54 318.49 L552.42 318.36 L553.29 318.23 L554.16 318.11 L555 318 L555.83 317.89 L556.67 317.78 L557.5 317.67 L558.33 317.57 L559.17 317.47 L560 317.37 L560.83 317.28 L561.67 317.19 L562.5 317.11 L563.33 317.03 L564.17 316.96 L565 316.9 L565.83 316.84 L566.67 316.79 L567.5 316.74 L568.33 316.7 L569.17 316.66 L570 316.63 L570.83 316.61 L571.67 316.59 L572.5 316.58 L573.33 316.58 L574.17 316.58 L575 316.6 L575.84 316.63 L576.69 316.67 L577.55 316.72 L578.41 316.79 L579.27 316.86 L580.12 316.93 L580.98 317.01 L581.81 317.09 L582.64 317.17 L583.45 317.25 L584.24 317.33 L585 317.4 L585.87 317.48 L586.7 317.57 L587.48 317.67 L588.25 317.76 L589 317.85 L589.75 317.94 L590.52 318.02 L591.3 318.09 L592.13 318.15 L593 318.2 L593.77 318.23 L594.57 318.26 L595.39 318.28 L596.24 318.29 L597.1 318.3 L597.96 318.3 L598.83 318.3 L599.7 318.29 L600.55 318.27 L601.39 318.26 L602.21 318.23 L603 318.2 L603.96 318.15 L604.95 318.08 L605.95 317.99 L606.95 317.9 L607.92 317.8 L608.85 317.7 L609.7 317.61 L610.45 317.52 L611.09 317.45 L611.6 317.4" fill="none" stroke="#1a1aee" stroke-width="3.7" stroke-linecap="round" stroke-linejoin="round"/>
<ellipse cx="611.6" cy="317.4" rx="1.5" ry="1.3" fill="none" stroke="#1a1ae6" stroke-width="1.0"/>
<ellipse cx="613.74" cy="316.89" rx="1.5" ry="1.3" fill="none" stroke="#1a1ae6" stroke-width="1.0"/>
<ellipse cx="615.79" cy="316.36" rx="1.5" ry="1.3" fill="none" stroke="#1a1ae6" stroke-width="1.0"/>
<ellipse cx="617.9" cy="315.75" rx="1.5" ry="1.3" fill="none" stroke="#1a1ae6" stroke-width="1.0"/>
<ellipse cx="619.83" cy="315.11" rx="1.5" ry="1.3" fill="none" stroke="#1a1ae6" stroke-width="1.0"/>
<ellipse cx="621.68" cy="314.28" rx="1.5" ry="1.3" fill="none" stroke="#1a1ae6" stroke-width="1.0"/>
<ellipse cx="623.49" cy="313.28" rx="1.5" ry="1.3" fill="none" stroke="#1a1ae6" stroke-width="1.0"/>
<ellipse cx="625.4" cy="312.19" rx="1.5" ry="1.3" fill="none" stroke="#1a1ae6" stroke-width="1.0"/>
<ellipse cx="627.16" cy="311.21" rx="1.5" ry="1.3" fill="none" stroke="#1a1ae6" stroke-width="1.0"/>
<ellipse cx="629" cy="310.2" rx="1.5" ry="1.3" fill="none" stroke="#1a1ae6" stroke-width="1.0"/>
<ellipse cx="630.8" cy="309.25" rx="1.5" ry="1.3" fill="none" stroke="#1a1ae6" stroke-width="1.0"/>
<ellipse cx="632.72" cy="308.25" rx="1.5" ry="1.3" fill="none" stroke="#1a1ae6" stroke-width="1.0"/>
<ellipse cx="634.55" cy="307.34" rx="1.5" ry="1.3" fill="none" stroke="#1a1ae6" stroke-width="1.0"/>
<ellipse cx="636.4" cy="306.54" rx="1.5" ry="1.3" fill="none" stroke="#1a1ae6" stroke-width="1.0"/>
<ellipse cx="640" cy="305.1" rx="1.6" ry="1.4" fill="none" stroke="#3030d8" stroke-width="0.65"/>
<ellipse cx="644.2" cy="303.6" rx="1.6" ry="1.4" fill="none" stroke="#3030d8" stroke-width="0.65"/>
<ellipse cx="651" cy="301.8" rx="1.6" ry="1.4" fill="none" stroke="#3030d8" stroke-width="0.65"/>
<ellipse cx="653.1" cy="301.8" rx="1.6" ry="1.4" fill="none" stroke="#3030d8" stroke-width="0.65"/>
<ellipse cx="675.9" cy="308.5" rx="1.6" ry="1.4" fill="none" stroke="#3030d8" stroke-width="0.65"/>
<path d="M522.2 314.3 L522.65 314.28 L523.21 314.25 L523.85 314.21 L524.57 314.18 L525.35 314.14 L526.19 314.1 L527.06 314.05 L527.98 314.01 L528.9 313.96 L529.84 313.91 L530.78 313.86 L531.7 313.81 L532.59 313.75 L533.45 313.7 L534.25 313.65 L535 313.6 L535.93 313.53 L536.83 313.46 L537.7 313.38 L538.54 313.31 L539.37 313.23 L540.17 313.15 L540.98 313.07 L541.77 312.99 L542.57 312.92 L543.37 312.84 L544.18 312.77 L545 312.7 L545.83 312.63 L546.67 312.57 L547.5 312.51 L548.33 312.45 L549.17 312.39 L550 312.33 L550.83 312.27 L551.67 312.22 L552.5 312.16 L553.33 312.11 L554.17 312.05 L555 312 L555.83 311.95 L556.67 311.89 L557.5 311.84 L558.33 311.79 L559.17 311.74 L560 311.69 L560.83 311.64 L561.67 311.59 L562.5 311.54 L563.33 311.49 L564.17 311.45 L565 311.4 L565.84 311.35 L566.69 311.3 L567.55 311.24 L568.41 311.19 L569.27 311.13 L570.12 311.08 L570.98 311.03 L571.81 310.99 L572.64 310.95 L573.45 310.92 L574.24 310.91 L575 310.9 L575.87 310.91 L576.7 310.93 L577.48 310.96 L578.25 311 L579 311.06 L579.75 311.12 L580.52 311.18 L581.3 311.25 L582.13 311.33 L583 311.4 L583.78 311.47 L584.61 311.55 L585.48 311.64 L586.37 311.74 L587.28 311.84 L588.19 311.94 L589.09 312.04 L589.96 312.13 L590.8 312.22 L591.6 312.29 L592.34 312.35 L593 312.4 L594.12 312.46 L595.04 312.5 L595.81 312.5 L596.52 312.47 L597.22 312.4 L598 312.3 L598.83 312.15 L599.67 311.96 L600.5 311.73 L601.33 311.47 L602.17 311.19 L603 310.9 L603.85 310.58 L604.73 310.23 L605.61 309.86 L606.47 309.48 L607.27 309.12 L608 308.8 L609 308.35 L609.91 307.92 L610.67 307.56 L611.2 307.3" fill="none" stroke="#e60000" stroke-width="2.5" stroke-linecap="round" stroke-linejoin="round"/>
<circle cx="511.2" cy="314.5" r="1.0" fill="#e60000"/>
<circle cx="512.22" cy="314.5" r="1.0" fill="#e60000"/>
<circle cx="514.6" cy="314.4" r="1.0" fill="#e60000"/>
<circle cx="515.71" cy="314.33" r="1.0" fill="#e60000"/>
<circle cx="518" cy="314.2" r="1.0" fill="#e60000"/>
<circle cx="518.98" cy="314.13" r="1.0" fill="#e60000"/>
<circle cx="519.9" cy="314.07" r="1.0" fill="#e60000"/>
<circle cx="613.6" cy="305.2" r="1.0" fill="#e60000"/>
<circle cx="614.48" cy="304.64" r="1.0" fill="#e60000"/>
<circle cx="615.27" cy="304.12" r="1.0" fill="#e60000"/>
<circle cx="616.17" cy="303.46" r="1.0" fill="#e60000"/>
<circle cx="616.89" cy="302.84" r="1.0" fill="#e60000"/>
<circle cx="617.68" cy="302.1" r="1.0" fill="#e60000"/>
<circle cx="619.4" cy="299.7" r="1.0" fill="#e60000"/>
<circle cx="620.05" cy="299.05" r="1.0" fill="#e60000"/>
<circle cx="620.75" cy="298.35" r="1.0" fill="#e60000"/>
<circle cx="621.4" cy="297.7" r="1.0" fill="#e60000"/>
<circle cx="624.3" cy="293.9" r="1.05" fill="#e60000"/>
<circle cx="625.3" cy="292.5" r="1.05" fill="#e60000"/>
<circle cx="628" cy="288.1" r="1.05" fill="#e60000"/>
<circle cx="631" cy="283.3" r="1.05" fill="#e60000"/>
<circle cx="633.9" cy="278.1" r="1.05" fill="#e60000"/>
<circle cx="635" cy="276.2" r="1.05" fill="#e60000"/>
<circle cx="639.7" cy="268.6" r="1.05" fill="#e60000"/>
<circle cx="643.9" cy="261" r="1.05" fill="#e60000"/>
<circle cx="650.7" cy="250.5" r="1.05" fill="#e60000"/>
<circle cx="653.1" cy="247.4" r="1.05" fill="#e60000"/>
<circle cx="676.2" cy="226.7" r="1.05" fill="#e60000"/>
</svg>
</body></html>
